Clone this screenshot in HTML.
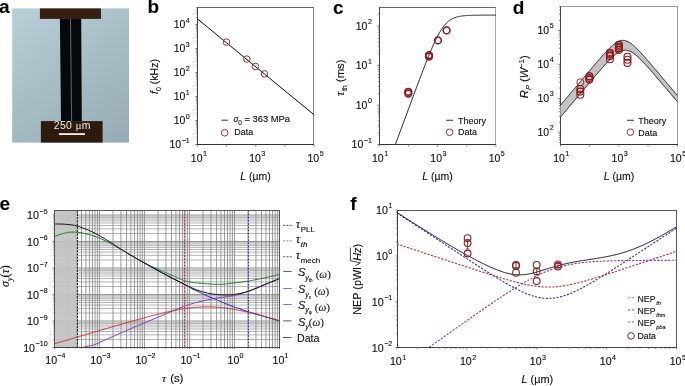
<!DOCTYPE html>
<html><head><meta charset="utf-8"><style>
html,body{margin:0;padding:0;background:#fff;}
svg{display:block;will-change:transform;}
text{stroke:#111;stroke-width:0.12px;}
</style></head><body>
<svg xmlns="http://www.w3.org/2000/svg" width="685" height="386" viewBox="0 0 685 386">
<rect width="685" height="386" fill="#fff"/>
<defs><linearGradient id="ga" x1="0" y1="0" x2="0" y2="1"><stop offset="0" stop-color="#b7cfd6"/><stop offset="1" stop-color="#a2b8c0"/></linearGradient><linearGradient id="gb" x1="0" y1="0" x2="1" y2="0"><stop offset="0" stop-color="#000" stop-opacity="0"/><stop offset="1" stop-color="#00081a" stop-opacity="0.07"/></linearGradient></defs>
<rect x="12.2" y="8.4" width="116.8" height="134.2" fill="url(#ga)"/>
<rect x="12.2" y="8.4" width="116.8" height="134.2" fill="url(#gb)"/>
<rect x="39.9" y="8.4" width="61.1" height="10.5" fill="#361f11"/>
<polygon points="59.9,18.8 81.2,18.8 81.8,121.2 61,121.2" fill="#06080c"/>
<line x1="70.5" y1="18.8" x2="71.6" y2="121.2" stroke="#4e6670" stroke-width="1.1"/>
<rect x="40.9" y="121.1" width="61.7" height="21.5" fill="#2e1b0e"/>
<text x="72.3" y="128.6" font-size="10.4" letter-spacing="0.33" text-anchor="middle" font-family='"Liberation Sans", sans-serif' fill="#ececec" style="stroke:none">250 <tspan font-family='"Liberation Serif", serif'>µ</tspan>m</text>
<rect x="59" y="133.2" width="26" height="1.8" fill="#f4f4f4"/>
<text x="-1" y="13" font-size="19" font-weight="bold" font-family='"Liberation Sans", sans-serif' fill="#000">a</text>
<text x="147.4" y="13.1" font-size="19" font-weight="bold" font-family='"Liberation Sans", sans-serif' fill="#000">b</text>
<text x="333" y="13.5" font-size="19" font-weight="bold" font-family='"Liberation Sans", sans-serif' fill="#000">c</text>
<text x="512.8" y="13.5" font-size="19" font-weight="bold" font-family='"Liberation Sans", sans-serif' fill="#000">d</text>
<text x="-0.4" y="209.7" font-size="19" font-weight="bold" font-family='"Liberation Sans", sans-serif' fill="#000">e</text>
<text x="350.2" y="209.5" font-size="19" font-weight="bold" font-family='"Liberation Sans", sans-serif' fill="#000">f</text>
<line x1="197" y1="7.5" x2="314" y2="7.5" stroke="#666" stroke-width="1" />
<line x1="313.5" y1="7.5" x2="313.5" y2="144.5" stroke="#888" stroke-width="1" />
<line x1="197.5" y1="7.5" x2="197.5" y2="145" stroke="#444" stroke-width="1" />
<line x1="197" y1="144.5" x2="314" y2="144.5" stroke="#333" stroke-width="1" />
<line x1="195.1" y1="144.6" x2="197.5" y2="144.6" stroke="#555" stroke-width="0.7" />
<line x1="195.9" y1="137.38" x2="197.5" y2="137.38" stroke="#555" stroke-width="0.7" />
<line x1="195.9" y1="133.15" x2="197.5" y2="133.15" stroke="#555" stroke-width="0.7" />
<line x1="195.9" y1="130.15" x2="197.5" y2="130.15" stroke="#555" stroke-width="0.7" />
<line x1="195.9" y1="127.82" x2="197.5" y2="127.82" stroke="#555" stroke-width="0.7" />
<line x1="195.9" y1="125.92" x2="197.5" y2="125.92" stroke="#555" stroke-width="0.7" />
<line x1="195.9" y1="124.32" x2="197.5" y2="124.32" stroke="#555" stroke-width="0.7" />
<line x1="195.9" y1="122.93" x2="197.5" y2="122.93" stroke="#555" stroke-width="0.7" />
<line x1="195.9" y1="121.7" x2="197.5" y2="121.7" stroke="#555" stroke-width="0.7" />
<line x1="195.1" y1="120.6" x2="197.5" y2="120.6" stroke="#555" stroke-width="0.7" />
<line x1="195.9" y1="113.38" x2="197.5" y2="113.38" stroke="#555" stroke-width="0.7" />
<line x1="195.9" y1="109.15" x2="197.5" y2="109.15" stroke="#555" stroke-width="0.7" />
<line x1="195.9" y1="106.15" x2="197.5" y2="106.15" stroke="#555" stroke-width="0.7" />
<line x1="195.9" y1="103.82" x2="197.5" y2="103.82" stroke="#555" stroke-width="0.7" />
<line x1="195.9" y1="101.92" x2="197.5" y2="101.92" stroke="#555" stroke-width="0.7" />
<line x1="195.9" y1="100.32" x2="197.5" y2="100.32" stroke="#555" stroke-width="0.7" />
<line x1="195.9" y1="98.93" x2="197.5" y2="98.93" stroke="#555" stroke-width="0.7" />
<line x1="195.9" y1="97.7" x2="197.5" y2="97.7" stroke="#555" stroke-width="0.7" />
<line x1="195.1" y1="96.6" x2="197.5" y2="96.6" stroke="#555" stroke-width="0.7" />
<line x1="195.9" y1="89.38" x2="197.5" y2="89.38" stroke="#555" stroke-width="0.7" />
<line x1="195.9" y1="85.15" x2="197.5" y2="85.15" stroke="#555" stroke-width="0.7" />
<line x1="195.9" y1="82.15" x2="197.5" y2="82.15" stroke="#555" stroke-width="0.7" />
<line x1="195.9" y1="79.82" x2="197.5" y2="79.82" stroke="#555" stroke-width="0.7" />
<line x1="195.9" y1="77.92" x2="197.5" y2="77.92" stroke="#555" stroke-width="0.7" />
<line x1="195.9" y1="76.32" x2="197.5" y2="76.32" stroke="#555" stroke-width="0.7" />
<line x1="195.9" y1="74.93" x2="197.5" y2="74.93" stroke="#555" stroke-width="0.7" />
<line x1="195.9" y1="73.7" x2="197.5" y2="73.7" stroke="#555" stroke-width="0.7" />
<line x1="195.1" y1="72.6" x2="197.5" y2="72.6" stroke="#555" stroke-width="0.7" />
<line x1="195.9" y1="65.38" x2="197.5" y2="65.38" stroke="#555" stroke-width="0.7" />
<line x1="195.9" y1="61.15" x2="197.5" y2="61.15" stroke="#555" stroke-width="0.7" />
<line x1="195.9" y1="58.15" x2="197.5" y2="58.15" stroke="#555" stroke-width="0.7" />
<line x1="195.9" y1="55.82" x2="197.5" y2="55.82" stroke="#555" stroke-width="0.7" />
<line x1="195.9" y1="53.92" x2="197.5" y2="53.92" stroke="#555" stroke-width="0.7" />
<line x1="195.9" y1="52.32" x2="197.5" y2="52.32" stroke="#555" stroke-width="0.7" />
<line x1="195.9" y1="50.93" x2="197.5" y2="50.93" stroke="#555" stroke-width="0.7" />
<line x1="195.9" y1="49.7" x2="197.5" y2="49.7" stroke="#555" stroke-width="0.7" />
<line x1="195.1" y1="48.6" x2="197.5" y2="48.6" stroke="#555" stroke-width="0.7" />
<line x1="195.9" y1="41.38" x2="197.5" y2="41.38" stroke="#555" stroke-width="0.7" />
<line x1="195.9" y1="37.15" x2="197.5" y2="37.15" stroke="#555" stroke-width="0.7" />
<line x1="195.9" y1="34.15" x2="197.5" y2="34.15" stroke="#555" stroke-width="0.7" />
<line x1="195.9" y1="31.82" x2="197.5" y2="31.82" stroke="#555" stroke-width="0.7" />
<line x1="195.9" y1="29.92" x2="197.5" y2="29.92" stroke="#555" stroke-width="0.7" />
<line x1="195.9" y1="28.32" x2="197.5" y2="28.32" stroke="#555" stroke-width="0.7" />
<line x1="195.9" y1="26.93" x2="197.5" y2="26.93" stroke="#555" stroke-width="0.7" />
<line x1="195.9" y1="25.7" x2="197.5" y2="25.7" stroke="#555" stroke-width="0.7" />
<line x1="195.1" y1="24.6" x2="197.5" y2="24.6" stroke="#555" stroke-width="0.7" />
<line x1="195.9" y1="17.38" x2="197.5" y2="17.38" stroke="#555" stroke-width="0.7" />
<line x1="195.9" y1="13.15" x2="197.5" y2="13.15" stroke="#555" stroke-width="0.7" />
<line x1="195.9" y1="10.15" x2="197.5" y2="10.15" stroke="#555" stroke-width="0.7" />
<line x1="195.9" y1="7.82" x2="197.5" y2="7.82" stroke="#555" stroke-width="0.7" />
<line x1="197.4" y1="144.5" x2="197.4" y2="146.5" stroke="#555" stroke-width="0.7" />
<line x1="226.58" y1="144.5" x2="226.58" y2="146.5" stroke="#555" stroke-width="0.7" />
<line x1="255.75" y1="144.5" x2="255.75" y2="146.5" stroke="#555" stroke-width="0.7" />
<line x1="284.93" y1="144.5" x2="284.93" y2="146.5" stroke="#555" stroke-width="0.7" />
<line x1="314.1" y1="144.5" x2="314.1" y2="146.5" stroke="#555" stroke-width="0.7" />
<text x="189.8" y="148.1" font-size="10.5" text-anchor="end" font-family='"Liberation Sans", sans-serif' fill="#111">10<tspan font-size="7.1" dx="0.5" dy="-5.6">−1</tspan></text>
<text x="189.8" y="124.1" font-size="10.5" text-anchor="end" font-family='"Liberation Sans", sans-serif' fill="#111">10<tspan font-size="7.1" dx="0.5" dy="-5.6">0</tspan></text>
<text x="189.8" y="100.1" font-size="10.5" text-anchor="end" font-family='"Liberation Sans", sans-serif' fill="#111">10<tspan font-size="7.1" dx="0.5" dy="-5.6">1</tspan></text>
<text x="189.8" y="76.1" font-size="10.5" text-anchor="end" font-family='"Liberation Sans", sans-serif' fill="#111">10<tspan font-size="7.1" dx="0.5" dy="-5.6">2</tspan></text>
<text x="189.8" y="52.1" font-size="10.5" text-anchor="end" font-family='"Liberation Sans", sans-serif' fill="#111">10<tspan font-size="7.1" dx="0.5" dy="-5.6">3</tspan></text>
<text x="189.8" y="28.1" font-size="10.5" text-anchor="end" font-family='"Liberation Sans", sans-serif' fill="#111">10<tspan font-size="7.1" dx="0.5" dy="-5.6">4</tspan></text>
<text x="198.9" y="161.7" font-size="10.5" text-anchor="middle" font-family='"Liberation Sans", sans-serif' fill="#111">10<tspan font-size="7.1" dx="0.5" dy="-5.6">1</tspan></text>
<text x="257.25" y="161.7" font-size="10.5" text-anchor="middle" font-family='"Liberation Sans", sans-serif' fill="#111">10<tspan font-size="7.1" dx="0.5" dy="-5.6">3</tspan></text>
<text x="315.6" y="161.7" font-size="10.5" text-anchor="middle" font-family='"Liberation Sans", sans-serif' fill="#111">10<tspan font-size="7.1" dx="0.5" dy="-5.6">5</tspan></text>
<polyline points="197.4,18.84 314.1,114.84" fill="none" stroke="#111" stroke-width="1" stroke-linejoin="round" />
<circle cx="226.4" cy="42.1" r="3.3" fill="none" stroke="#9a3535" stroke-width="1"/>
<circle cx="246.9" cy="59.1" r="3.3" fill="none" stroke="#9a3535" stroke-width="1"/>
<circle cx="255.4" cy="66.5" r="3.3" fill="none" stroke="#9a3535" stroke-width="1"/>
<circle cx="264.5" cy="73.9" r="3.3" fill="none" stroke="#9a3535" stroke-width="1"/>
<line x1="221.4" y1="120.2" x2="227.8" y2="120.2" stroke="#444" stroke-width="1.1" />
<text x="233.5" y="122.3" font-size="9.6" font-family='"Liberation Serif", serif' font-style="italic" fill="#111">σ<tspan font-size="6.4" dy="2.6" font-family='"Liberation Sans", sans-serif' font-style="normal">0</tspan><tspan dy="-2.6" font-family='"Liberation Sans", sans-serif' font-style="normal" font-size="9.4"> = 363 MPa</tspan></text>
<circle cx="224.7" cy="132.8" r="3.3" fill="none" stroke="#9a3535" stroke-width="1"/>
<text x="234.3" y="135" font-size="9" text-anchor="start" font-family='"Liberation Sans", sans-serif' fill="#111" >Data</text>
<text x="255.5" y="179.7" font-size="10.5" text-anchor="middle" font-family='"Liberation Sans", sans-serif' fill="#111"><tspan font-style="italic">L</tspan> (µm)</text>
<text transform="translate(158,76.5) rotate(-90)" font-size="10.5" text-anchor="middle" font-family='"Liberation Sans", sans-serif' fill="#111"><tspan font-style="italic">f</tspan><tspan font-size="7" dy="2.5">0</tspan><tspan dy="-2.5"> (kHz)</tspan></text>
<line x1="379" y1="7.5" x2="496" y2="7.5" stroke="#666" stroke-width="1" />
<line x1="495.5" y1="7.5" x2="495.5" y2="144.5" stroke="#aaa" stroke-width="1" />
<line x1="379.5" y1="7.5" x2="379.5" y2="145" stroke="#444" stroke-width="1" />
<line x1="379" y1="144.5" x2="496" y2="144.5" stroke="#333" stroke-width="1" />
<line x1="377.1" y1="144.7" x2="379.5" y2="144.7" stroke="#555" stroke-width="0.7" />
<line x1="377.9" y1="132.81" x2="379.5" y2="132.81" stroke="#555" stroke-width="0.7" />
<line x1="377.9" y1="125.85" x2="379.5" y2="125.85" stroke="#555" stroke-width="0.7" />
<line x1="377.9" y1="120.92" x2="379.5" y2="120.92" stroke="#555" stroke-width="0.7" />
<line x1="377.9" y1="117.09" x2="379.5" y2="117.09" stroke="#555" stroke-width="0.7" />
<line x1="377.9" y1="113.96" x2="379.5" y2="113.96" stroke="#555" stroke-width="0.7" />
<line x1="377.9" y1="111.32" x2="379.5" y2="111.32" stroke="#555" stroke-width="0.7" />
<line x1="377.9" y1="109.03" x2="379.5" y2="109.03" stroke="#555" stroke-width="0.7" />
<line x1="377.9" y1="107.01" x2="379.5" y2="107.01" stroke="#555" stroke-width="0.7" />
<line x1="377.1" y1="105.2" x2="379.5" y2="105.2" stroke="#555" stroke-width="0.7" />
<line x1="377.9" y1="93.31" x2="379.5" y2="93.31" stroke="#555" stroke-width="0.7" />
<line x1="377.9" y1="86.35" x2="379.5" y2="86.35" stroke="#555" stroke-width="0.7" />
<line x1="377.9" y1="81.42" x2="379.5" y2="81.42" stroke="#555" stroke-width="0.7" />
<line x1="377.9" y1="77.59" x2="379.5" y2="77.59" stroke="#555" stroke-width="0.7" />
<line x1="377.9" y1="74.46" x2="379.5" y2="74.46" stroke="#555" stroke-width="0.7" />
<line x1="377.9" y1="71.82" x2="379.5" y2="71.82" stroke="#555" stroke-width="0.7" />
<line x1="377.9" y1="69.53" x2="379.5" y2="69.53" stroke="#555" stroke-width="0.7" />
<line x1="377.9" y1="67.51" x2="379.5" y2="67.51" stroke="#555" stroke-width="0.7" />
<line x1="377.1" y1="65.7" x2="379.5" y2="65.7" stroke="#555" stroke-width="0.7" />
<line x1="377.9" y1="53.81" x2="379.5" y2="53.81" stroke="#555" stroke-width="0.7" />
<line x1="377.9" y1="46.85" x2="379.5" y2="46.85" stroke="#555" stroke-width="0.7" />
<line x1="377.9" y1="41.92" x2="379.5" y2="41.92" stroke="#555" stroke-width="0.7" />
<line x1="377.9" y1="38.09" x2="379.5" y2="38.09" stroke="#555" stroke-width="0.7" />
<line x1="377.9" y1="34.96" x2="379.5" y2="34.96" stroke="#555" stroke-width="0.7" />
<line x1="377.9" y1="32.32" x2="379.5" y2="32.32" stroke="#555" stroke-width="0.7" />
<line x1="377.9" y1="30.03" x2="379.5" y2="30.03" stroke="#555" stroke-width="0.7" />
<line x1="377.9" y1="28.01" x2="379.5" y2="28.01" stroke="#555" stroke-width="0.7" />
<line x1="377.1" y1="26.2" x2="379.5" y2="26.2" stroke="#555" stroke-width="0.7" />
<line x1="377.9" y1="14.31" x2="379.5" y2="14.31" stroke="#555" stroke-width="0.7" />
<line x1="379.3" y1="144.5" x2="379.3" y2="146.5" stroke="#555" stroke-width="0.7" />
<line x1="408.45" y1="144.5" x2="408.45" y2="146.5" stroke="#555" stroke-width="0.7" />
<line x1="437.6" y1="144.5" x2="437.6" y2="146.5" stroke="#555" stroke-width="0.7" />
<line x1="466.75" y1="144.5" x2="466.75" y2="146.5" stroke="#555" stroke-width="0.7" />
<line x1="495.9" y1="144.5" x2="495.9" y2="146.5" stroke="#555" stroke-width="0.7" />
<text x="371.9" y="148.2" font-size="10.5" text-anchor="end" font-family='"Liberation Sans", sans-serif' fill="#111">10<tspan font-size="7.1" dx="0.5" dy="-5.6">−1</tspan></text>
<text x="371.9" y="108.7" font-size="10.5" text-anchor="end" font-family='"Liberation Sans", sans-serif' fill="#111">10<tspan font-size="7.1" dx="0.5" dy="-5.6">0</tspan></text>
<text x="371.9" y="69.2" font-size="10.5" text-anchor="end" font-family='"Liberation Sans", sans-serif' fill="#111">10<tspan font-size="7.1" dx="0.5" dy="-5.6">1</tspan></text>
<text x="371.9" y="29.7" font-size="10.5" text-anchor="end" font-family='"Liberation Sans", sans-serif' fill="#111">10<tspan font-size="7.1" dx="0.5" dy="-5.6">2</tspan></text>
<text x="380.1" y="161.7" font-size="10.5" text-anchor="middle" font-family='"Liberation Sans", sans-serif' fill="#111">10<tspan font-size="7.1" dx="0.5" dy="-5.6">1</tspan></text>
<text x="438.4" y="161.7" font-size="10.5" text-anchor="middle" font-family='"Liberation Sans", sans-serif' fill="#111">10<tspan font-size="7.1" dx="0.5" dy="-5.6">3</tspan></text>
<text x="496.7" y="161.7" font-size="10.5" text-anchor="middle" font-family='"Liberation Sans", sans-serif' fill="#111">10<tspan font-size="7.1" dx="0.5" dy="-5.6">5</tspan></text>
<polyline points="395.33,144.63 395.62,143.84 395.92,143.05 396.21,142.26 396.5,141.47 396.79,140.68 397.08,139.89 397.37,139.1 397.66,138.31 397.96,137.52 398.25,136.74 398.54,135.95 398.83,135.16 399.12,134.37 399.41,133.58 399.7,132.79 400,132 400.29,131.21 400.58,130.42 400.87,129.63 401.16,128.84 401.45,128.05 401.75,127.27 402.04,126.48 402.33,125.69 402.62,124.9 402.91,124.11 403.2,123.32 403.49,122.53 403.79,121.75 404.08,120.96 404.37,120.17 404.66,119.38 404.95,118.59 405.24,117.8 405.54,117.02 405.83,116.23 406.12,115.44 406.41,114.65 406.7,113.87 406.99,113.08 407.28,112.29 407.58,111.5 407.87,110.72 408.16,109.93 408.45,109.14 408.74,108.36 409.03,107.57 409.32,106.78 409.62,106 409.91,105.21 410.2,104.43 410.49,103.64 410.78,102.85 411.07,102.07 411.37,101.28 411.66,100.5 411.95,99.72 412.24,98.93 412.53,98.15 412.82,97.36 413.11,96.58 413.41,95.8 413.7,95.01 413.99,94.23 414.28,93.45 414.57,92.67 414.86,91.89 415.15,91.11 415.45,90.33 415.74,89.55 416.03,88.77 416.32,87.99 416.61,87.21 416.9,86.43 417.19,85.65 417.49,84.88 417.78,84.1 418.07,83.33 418.36,82.55 418.65,81.78 418.94,81 419.24,80.23 419.53,79.46 419.82,78.69 420.11,77.92 420.4,77.15 420.69,76.38 420.98,75.61 421.28,74.85 421.57,74.08 421.86,73.32 422.15,72.56 422.44,71.79 422.73,71.03 423.02,70.27 423.32,69.52 423.61,68.76 423.9,68.01 424.19,67.25 424.48,66.5 424.77,65.75 425.07,65.01 425.36,64.26 425.65,63.52 425.94,62.77 426.23,62.03 426.52,61.3 426.81,60.56 427.11,59.83 427.4,59.1 427.69,58.37 427.98,57.64 428.27,56.92 428.56,56.2 428.86,55.49 429.15,54.77 429.44,54.06 429.73,53.36 430.02,52.65 430.31,51.95 430.6,51.26 430.9,50.57 431.19,49.88 431.48,49.2 431.77,48.52 432.06,47.84 432.35,47.17 432.64,46.51 432.94,45.85 433.23,45.19 433.52,44.54 433.81,43.89 434.1,43.25 434.39,42.62 434.69,41.99 434.98,41.37 435.27,40.76 435.56,40.15 435.85,39.54 436.14,38.95 436.43,38.36 436.73,37.78 437.02,37.2 437.31,36.63 437.6,36.07 437.89,35.52 438.18,34.97 438.47,34.44 438.77,33.91 439.06,33.39 439.35,32.87 439.64,32.37 439.93,31.87 440.22,31.38 440.51,30.9 440.81,30.43 441.1,29.97 441.39,29.52 441.68,29.08 441.97,28.64 442.26,28.21 442.56,27.8 442.85,27.39 443.14,26.99 443.43,26.6 443.72,26.22 444.01,25.85 444.3,25.49 444.6,25.13 444.89,24.79 445.18,24.45 445.47,24.13 445.76,23.81 446.05,23.5 446.34,23.2 446.64,22.91 446.93,22.63 447.22,22.35 447.51,22.08 447.8,21.82 448.09,21.57 448.39,21.33 448.68,21.09 448.97,20.87 449.26,20.65 449.55,20.43 449.84,20.23 450.13,20.03 450.43,19.83 450.72,19.65 451.01,19.47 451.3,19.3 451.59,19.13 451.88,18.97 452.17,18.81 452.47,18.66 452.76,18.52 453.05,18.38 453.34,18.25 453.63,18.12 453.92,18 454.22,17.88 454.51,17.76 454.8,17.65 455.09,17.55 455.38,17.45 455.67,17.35 455.96,17.26 456.26,17.17 456.55,17.08 456.84,17 457.13,16.92 457.42,16.84 457.71,16.77 458,16.7 458.3,16.63 458.59,16.57 458.88,16.5 459.17,16.45 459.46,16.39 459.75,16.33 460.05,16.28 460.34,16.23 460.63,16.18 460.92,16.14 461.21,16.1 461.5,16.05 461.79,16.01 462.09,15.98 462.38,15.94 462.67,15.9 462.96,15.87 463.25,15.84 463.54,15.81 463.83,15.78 464.13,15.75 464.42,15.72 464.71,15.7 465,15.67 465.29,15.65 465.58,15.63 465.88,15.6 466.17,15.58 466.46,15.56 466.75,15.54 467.04,15.53 467.33,15.51 467.62,15.49 467.92,15.48 468.21,15.46 468.5,15.45 468.79,15.43 469.08,15.42 469.37,15.41 469.66,15.4 469.96,15.39 470.25,15.37 470.54,15.36 470.83,15.35 471.12,15.34 471.41,15.33 471.71,15.33 472,15.32 472.29,15.31 472.58,15.3 472.87,15.3 473.16,15.29 473.45,15.28 473.75,15.28 474.04,15.27 474.33,15.26 474.62,15.26 474.91,15.25 475.2,15.25 475.5,15.24 475.79,15.24 476.08,15.23 476.37,15.23 476.66,15.23 476.95,15.22 477.24,15.22 477.54,15.21 477.83,15.21 478.12,15.21 478.41,15.2 478.7,15.2 478.99,15.2 479.28,15.2 479.58,15.19 479.87,15.19 480.16,15.19 480.45,15.19 480.74,15.18 481.03,15.18 481.32,15.18 481.62,15.18 481.91,15.18 482.2,15.18 482.49,15.17 482.78,15.17 483.07,15.17 483.37,15.17 483.66,15.17 483.95,15.17 484.24,15.17 484.53,15.16 484.82,15.16 485.11,15.16 485.41,15.16 485.7,15.16 485.99,15.16 486.28,15.16 486.57,15.16 486.86,15.16 487.15,15.16 487.45,15.16 487.74,15.15 488.03,15.15 488.32,15.15 488.61,15.15 488.9,15.15 489.2,15.15 489.49,15.15 489.78,15.15 490.07,15.15 490.36,15.15 490.65,15.15 490.94,15.15 491.24,15.15 491.53,15.15 491.82,15.15 492.11,15.15 492.4,15.15 492.69,15.15 492.99,15.15 493.28,15.15 493.57,15.15 493.86,15.15 494.15,15.15 494.44,15.15 494.73,15.14 495.03,15.14 495.32,15.14 495.61,15.14 495.9,15.14" fill="none" stroke="#111" stroke-width="1" stroke-linejoin="round" />
<circle cx="408.3" cy="91.8" r="3.4" fill="none" stroke="#8a1616" stroke-width="1.55"/>
<circle cx="408.3" cy="93.6" r="3.4" fill="none" stroke="#8a1616" stroke-width="1.55"/>
<circle cx="429" cy="55.1" r="3.4" fill="none" stroke="#8a1616" stroke-width="1.55"/>
<circle cx="429" cy="56.6" r="3.4" fill="none" stroke="#8a1616" stroke-width="1.55"/>
<circle cx="437.9" cy="40.4" r="3.4" fill="none" stroke="#8a1616" stroke-width="1.55"/>
<circle cx="446.6" cy="30.4" r="3.4" fill="none" stroke="#8a1616" stroke-width="1.55"/>
<line x1="446.1" y1="120.3" x2="453.1" y2="120.3" stroke="#555" stroke-width="1.2" />
<text x="458" y="123.9" font-size="9" text-anchor="start" font-family='"Liberation Sans", sans-serif' fill="#111" >Theory</text>
<circle cx="449.6" cy="132.3" r="3.3" fill="none" stroke="#9a3535" stroke-width="1"/>
<text x="458" y="135.3" font-size="9" text-anchor="start" font-family='"Liberation Sans", sans-serif' fill="#111" >Data</text>
<text x="437.5" y="179.7" font-size="10.5" text-anchor="middle" font-family='"Liberation Sans", sans-serif' fill="#111"><tspan font-style="italic">L</tspan> (µm)</text>
<text transform="translate(344.3,96) rotate(-90)" font-size="10.7" fill="#111"><tspan font-family='"Liberation Serif", serif' font-style="italic" font-size="12">τ</tspan><tspan font-size="7" dx="0.6" dy="2.6" font-family='"Liberation Sans", sans-serif'>th</tspan><tspan dy="-2.6" font-family='"Liberation Sans", sans-serif' font-size="11.3"> (ms)</tspan></text>
<line x1="560" y1="6.5" x2="678" y2="6.5" stroke="#9a9a9a" stroke-width="1" />
<line x1="677.5" y1="6.5" x2="677.5" y2="144.5" stroke="#999" stroke-width="1" />
<line x1="560.5" y1="6.5" x2="560.5" y2="145" stroke="#444" stroke-width="1" />
<line x1="560" y1="144.5" x2="678" y2="144.5" stroke="#333" stroke-width="1" />
<line x1="558.9" y1="142.35" x2="560.5" y2="142.35" stroke="#555" stroke-width="0.7" />
<line x1="558.9" y1="139.67" x2="560.5" y2="139.67" stroke="#555" stroke-width="0.7" />
<line x1="558.9" y1="137.4" x2="560.5" y2="137.4" stroke="#555" stroke-width="0.7" />
<line x1="558.9" y1="135.44" x2="560.5" y2="135.44" stroke="#555" stroke-width="0.7" />
<line x1="558.9" y1="133.7" x2="560.5" y2="133.7" stroke="#555" stroke-width="0.7" />
<line x1="558.1" y1="132.15" x2="560.5" y2="132.15" stroke="#555" stroke-width="0.7" />
<line x1="558.9" y1="121.95" x2="560.5" y2="121.95" stroke="#555" stroke-width="0.7" />
<line x1="558.9" y1="115.98" x2="560.5" y2="115.98" stroke="#555" stroke-width="0.7" />
<line x1="558.9" y1="111.74" x2="560.5" y2="111.74" stroke="#555" stroke-width="0.7" />
<line x1="558.9" y1="108.45" x2="560.5" y2="108.45" stroke="#555" stroke-width="0.7" />
<line x1="558.9" y1="105.77" x2="560.5" y2="105.77" stroke="#555" stroke-width="0.7" />
<line x1="558.9" y1="103.5" x2="560.5" y2="103.5" stroke="#555" stroke-width="0.7" />
<line x1="558.9" y1="101.54" x2="560.5" y2="101.54" stroke="#555" stroke-width="0.7" />
<line x1="558.9" y1="99.8" x2="560.5" y2="99.8" stroke="#555" stroke-width="0.7" />
<line x1="558.1" y1="98.25" x2="560.5" y2="98.25" stroke="#555" stroke-width="0.7" />
<line x1="558.9" y1="88.05" x2="560.5" y2="88.05" stroke="#555" stroke-width="0.7" />
<line x1="558.9" y1="82.08" x2="560.5" y2="82.08" stroke="#555" stroke-width="0.7" />
<line x1="558.9" y1="77.84" x2="560.5" y2="77.84" stroke="#555" stroke-width="0.7" />
<line x1="558.9" y1="74.55" x2="560.5" y2="74.55" stroke="#555" stroke-width="0.7" />
<line x1="558.9" y1="71.87" x2="560.5" y2="71.87" stroke="#555" stroke-width="0.7" />
<line x1="558.9" y1="69.6" x2="560.5" y2="69.6" stroke="#555" stroke-width="0.7" />
<line x1="558.9" y1="67.64" x2="560.5" y2="67.64" stroke="#555" stroke-width="0.7" />
<line x1="558.9" y1="65.9" x2="560.5" y2="65.9" stroke="#555" stroke-width="0.7" />
<line x1="558.1" y1="64.35" x2="560.5" y2="64.35" stroke="#555" stroke-width="0.7" />
<line x1="558.9" y1="54.15" x2="560.5" y2="54.15" stroke="#555" stroke-width="0.7" />
<line x1="558.9" y1="48.18" x2="560.5" y2="48.18" stroke="#555" stroke-width="0.7" />
<line x1="558.9" y1="43.94" x2="560.5" y2="43.94" stroke="#555" stroke-width="0.7" />
<line x1="558.9" y1="40.65" x2="560.5" y2="40.65" stroke="#555" stroke-width="0.7" />
<line x1="558.9" y1="37.97" x2="560.5" y2="37.97" stroke="#555" stroke-width="0.7" />
<line x1="558.9" y1="35.7" x2="560.5" y2="35.7" stroke="#555" stroke-width="0.7" />
<line x1="558.9" y1="33.74" x2="560.5" y2="33.74" stroke="#555" stroke-width="0.7" />
<line x1="558.9" y1="32" x2="560.5" y2="32" stroke="#555" stroke-width="0.7" />
<line x1="558.1" y1="30.45" x2="560.5" y2="30.45" stroke="#555" stroke-width="0.7" />
<line x1="558.9" y1="20.25" x2="560.5" y2="20.25" stroke="#555" stroke-width="0.7" />
<line x1="558.9" y1="14.28" x2="560.5" y2="14.28" stroke="#555" stroke-width="0.7" />
<line x1="558.9" y1="10.04" x2="560.5" y2="10.04" stroke="#555" stroke-width="0.7" />
<line x1="558.9" y1="6.75" x2="560.5" y2="6.75" stroke="#555" stroke-width="0.7" />
<line x1="560.4" y1="144.5" x2="560.4" y2="146.5" stroke="#555" stroke-width="0.7" />
<line x1="589.62" y1="144.5" x2="589.62" y2="146.5" stroke="#555" stroke-width="0.7" />
<line x1="618.85" y1="144.5" x2="618.85" y2="146.5" stroke="#555" stroke-width="0.7" />
<line x1="648.07" y1="144.5" x2="648.07" y2="146.5" stroke="#555" stroke-width="0.7" />
<line x1="677.3" y1="144.5" x2="677.3" y2="146.5" stroke="#555" stroke-width="0.7" />
<text x="553.6" y="135.65" font-size="10.5" text-anchor="end" font-family='"Liberation Sans", sans-serif' fill="#111">10<tspan font-size="7.1" dx="0.5" dy="-5.6">2</tspan></text>
<text x="553.6" y="101.75" font-size="10.5" text-anchor="end" font-family='"Liberation Sans", sans-serif' fill="#111">10<tspan font-size="7.1" dx="0.5" dy="-5.6">3</tspan></text>
<text x="553.6" y="67.85" font-size="10.5" text-anchor="end" font-family='"Liberation Sans", sans-serif' fill="#111">10<tspan font-size="7.1" dx="0.5" dy="-5.6">4</tspan></text>
<text x="553.6" y="33.95" font-size="10.5" text-anchor="end" font-family='"Liberation Sans", sans-serif' fill="#111">10<tspan font-size="7.1" dx="0.5" dy="-5.6">5</tspan></text>
<text x="561.2" y="161.7" font-size="10.5" text-anchor="middle" font-family='"Liberation Sans", sans-serif' fill="#111">10<tspan font-size="7.1" dx="0.5" dy="-5.6">1</tspan></text>
<text x="619.65" y="161.7" font-size="10.5" text-anchor="middle" font-family='"Liberation Sans", sans-serif' fill="#111">10<tspan font-size="7.1" dx="0.5" dy="-5.6">3</tspan></text>
<text x="678.1" y="161.7" font-size="10.5" text-anchor="middle" font-family='"Liberation Sans", sans-serif' fill="#111">10<tspan font-size="7.1" dx="0.5" dy="-5.6">5</tspan></text>
<polygon points="560.4,105.4 560.69,105.06 560.98,104.71 561.28,104.36 561.57,104.01 561.86,103.67 562.15,103.32 562.45,102.97 562.74,102.62 563.03,102.28 563.32,101.93 563.61,101.58 563.91,101.23 564.2,100.89 564.49,100.54 564.78,100.19 565.08,99.84 565.37,99.5 565.66,99.15 565.95,98.8 566.25,98.45 566.54,98.11 566.83,97.76 567.12,97.41 567.41,97.06 567.71,96.72 568,96.37 568.29,96.02 568.58,95.67 568.88,95.33 569.17,94.98 569.46,94.63 569.75,94.28 570.04,93.94 570.34,93.59 570.63,93.24 570.92,92.9 571.21,92.55 571.51,92.2 571.8,91.85 572.09,91.51 572.38,91.16 572.67,90.81 572.97,90.46 573.26,90.12 573.55,89.77 573.84,89.42 574.14,89.07 574.43,88.73 574.72,88.38 575.01,88.03 575.3,87.68 575.6,87.34 575.89,86.99 576.18,86.64 576.47,86.3 576.77,85.95 577.06,85.6 577.35,85.25 577.64,84.91 577.93,84.56 578.23,84.21 578.52,83.86 578.81,83.52 579.1,83.17 579.4,82.82 579.69,82.48 579.98,82.13 580.27,81.78 580.57,81.43 580.86,81.09 581.15,80.74 581.44,80.39 581.73,80.05 582.03,79.7 582.32,79.35 582.61,79.01 582.9,78.66 583.2,78.31 583.49,77.96 583.78,77.62 584.07,77.27 584.36,76.92 584.66,76.58 584.95,76.23 585.24,75.88 585.53,75.54 585.83,75.19 586.12,74.84 586.41,74.5 586.7,74.15 586.99,73.81 587.29,73.46 587.58,73.11 587.87,72.77 588.16,72.42 588.46,72.08 588.75,71.73 589.04,71.38 589.33,71.04 589.62,70.69 589.92,70.35 590.21,70 590.5,69.66 590.79,69.31 591.09,68.97 591.38,68.62 591.67,68.28 591.96,67.93 592.26,67.59 592.55,67.24 592.84,66.9 593.13,66.55 593.42,66.21 593.72,65.87 594.01,65.52 594.3,65.18 594.59,64.84 594.89,64.49 595.18,64.15 595.47,63.81 595.76,63.47 596.05,63.12 596.35,62.78 596.64,62.44 596.93,62.1 597.22,61.76 597.52,61.42 597.81,61.08 598.1,60.74 598.39,60.4 598.68,60.06 598.98,59.73 599.27,59.39 599.56,59.05 599.85,58.72 600.15,58.38 600.44,58.05 600.73,57.71 601.02,57.38 601.31,57.04 601.61,56.71 601.9,56.38 602.19,56.05 602.48,55.72 602.78,55.39 603.07,55.06 603.36,54.74 603.65,54.41 603.95,54.08 604.24,53.76 604.53,53.44 604.82,53.12 605.11,52.8 605.41,52.48 605.7,52.16 605.99,51.85 606.28,51.53 606.58,51.22 606.87,50.91 607.16,50.6 607.45,50.3 607.74,49.99 608.04,49.69 608.33,49.39 608.62,49.09 608.91,48.8 609.21,48.5 609.5,48.21 609.79,47.93 610.08,47.64 610.37,47.36 610.67,47.08 610.96,46.81 611.25,46.53 611.54,46.27 611.84,46 612.13,45.74 612.42,45.49 612.71,45.23 613,44.99 613.3,44.74 613.59,44.5 613.88,44.27 614.17,44.04 614.47,43.82 614.76,43.6 615.05,43.39 615.34,43.18 615.64,42.98 615.93,42.78 616.22,42.6 616.51,42.41 616.8,42.24 617.1,42.07 617.39,41.91 617.68,41.75 617.97,41.61 618.27,41.47 618.56,41.33 618.85,41.21 619.14,41.09 619.43,40.98 619.73,40.88 620.02,40.79 620.31,40.71 620.6,40.63 620.9,40.56 621.19,40.51 621.48,40.46 621.77,40.42 622.06,40.38 622.36,40.36 622.65,40.35 622.94,40.34 623.23,40.35 623.53,40.36 623.82,40.38 624.11,40.41 624.4,40.45 624.69,40.5 624.99,40.56 625.28,40.63 625.57,40.7 625.86,40.78 626.16,40.88 626.45,40.98 626.74,41.08 627.03,41.2 627.33,41.32 627.62,41.46 627.91,41.59 628.2,41.74 628.49,41.9 628.79,42.06 629.08,42.22 629.37,42.4 629.66,42.58 629.96,42.77 630.25,42.96 630.54,43.16 630.83,43.37 631.12,43.58 631.42,43.8 631.71,44.02 632,44.25 632.29,44.48 632.59,44.72 632.88,44.96 633.17,45.21 633.46,45.46 633.75,45.71 634.05,45.97 634.34,46.23 634.63,46.5 634.92,46.77 635.22,47.05 635.51,47.32 635.8,47.6 636.09,47.89 636.38,48.17 636.68,48.46 636.97,48.75 637.26,49.05 637.55,49.34 637.85,49.64 638.14,49.94 638.43,50.24 638.72,50.55 639.02,50.86 639.31,51.17 639.6,51.48 639.89,51.79 640.18,52.1 640.48,52.42 640.77,52.73 641.06,53.05 641.35,53.37 641.65,53.69 641.94,54.02 642.23,54.34 642.52,54.66 642.81,54.99 643.11,55.32 643.4,55.64 643.69,55.97 643.98,56.3 644.28,56.63 644.57,56.96 644.86,57.29 645.15,57.62 645.44,57.96 645.74,58.29 646.03,58.62 646.32,58.96 646.61,59.29 646.91,59.63 647.2,59.97 647.49,60.3 647.78,60.64 648.07,60.98 648.37,61.32 648.66,61.66 648.95,61.99 649.24,62.33 649.54,62.67 649.83,63.01 650.12,63.35 650.41,63.69 650.71,64.03 651,64.37 651.29,64.72 651.58,65.06 651.87,65.4 652.17,65.74 652.46,66.08 652.75,66.42 653.04,66.77 653.34,67.11 653.63,67.45 653.92,67.79 654.21,68.14 654.5,68.48 654.8,68.82 655.09,69.17 655.38,69.51 655.67,69.85 655.97,70.2 656.26,70.54 656.55,70.89 656.84,71.23 657.13,71.57 657.43,71.92 657.72,72.26 658.01,72.61 658.3,72.95 658.6,73.3 658.89,73.64 659.18,73.99 659.47,74.33 659.76,74.68 660.06,75.02 660.35,75.36 660.64,75.71 660.93,76.05 661.23,76.4 661.52,76.74 661.81,77.09 662.1,77.43 662.4,77.78 662.69,78.13 662.98,78.47 663.27,78.82 663.56,79.16 663.86,79.51 664.15,79.85 664.44,80.2 664.73,80.54 665.03,80.89 665.32,81.23 665.61,81.58 665.9,81.92 666.19,82.27 666.49,82.61 666.78,82.96 667.07,83.31 667.36,83.65 667.66,84 667.95,84.34 668.24,84.69 668.53,85.03 668.82,85.38 669.12,85.72 669.41,86.07 669.7,86.42 669.99,86.76 670.29,87.11 670.58,87.45 670.87,87.8 671.16,88.14 671.45,88.49 671.75,88.83 672.04,89.18 672.33,89.53 672.62,89.87 672.92,90.22 673.21,90.56 673.5,90.91 673.79,91.25 674.09,91.6 674.38,91.95 674.67,92.29 674.96,92.64 675.25,92.98 675.55,93.33 675.84,93.67 676.13,94.02 676.42,94.37 676.72,94.71 677.01,95.06 677.3,95.4 677.3,101.61 677.01,101.26 676.72,100.92 676.42,100.57 676.13,100.23 675.84,99.88 675.55,99.54 675.25,99.19 674.96,98.84 674.67,98.5 674.38,98.15 674.09,97.81 673.79,97.46 673.5,97.12 673.21,96.77 672.92,96.43 672.62,96.08 672.33,95.74 672.04,95.39 671.75,95.04 671.45,94.7 671.16,94.35 670.87,94.01 670.58,93.66 670.29,93.32 669.99,92.97 669.7,92.63 669.41,92.28 669.12,91.94 668.82,91.59 668.53,91.25 668.24,90.9 667.95,90.56 667.66,90.21 667.36,89.87 667.07,89.52 666.78,89.18 666.49,88.83 666.19,88.49 665.9,88.14 665.61,87.8 665.32,87.45 665.03,87.11 664.73,86.76 664.44,86.42 664.15,86.07 663.86,85.73 663.56,85.39 663.27,85.04 662.98,84.7 662.69,84.35 662.4,84.01 662.1,83.66 661.81,83.32 661.52,82.98 661.23,82.63 660.93,82.29 660.64,81.95 660.35,81.6 660.06,81.26 659.76,80.92 659.47,80.57 659.18,80.23 658.89,79.89 658.6,79.54 658.3,79.2 658.01,78.86 657.72,78.52 657.43,78.18 657.13,77.83 656.84,77.49 656.55,77.15 656.26,76.81 655.97,76.47 655.67,76.13 655.38,75.79 655.09,75.45 654.8,75.11 654.5,74.77 654.21,74.43 653.92,74.09 653.63,73.75 653.34,73.41 653.04,73.07 652.75,72.74 652.46,72.4 652.17,72.06 651.87,71.72 651.58,71.39 651.29,71.05 651,70.72 650.71,70.38 650.41,70.05 650.12,69.72 649.83,69.38 649.54,69.05 649.24,68.72 648.95,68.39 648.66,68.06 648.37,67.73 648.07,67.4 647.78,67.07 647.49,66.74 647.2,66.42 646.91,66.09 646.61,65.77 646.32,65.44 646.03,65.12 645.74,64.8 645.44,64.48 645.15,64.16 644.86,63.84 644.57,63.52 644.28,63.21 643.98,62.89 643.69,62.58 643.4,62.27 643.11,61.96 642.81,61.65 642.52,61.35 642.23,61.04 641.94,60.74 641.65,60.44 641.35,60.14 641.06,59.84 640.77,59.55 640.48,59.26 640.18,58.97 639.89,58.68 639.6,58.4 639.31,58.12 639.02,57.84 638.72,57.56 638.43,57.29 638.14,57.02 637.85,56.75 637.55,56.49 637.26,56.23 636.97,55.97 636.68,55.72 636.38,55.47 636.09,55.23 635.8,54.99 635.51,54.75 635.22,54.52 634.92,54.29 634.63,54.07 634.34,53.85 634.05,53.64 633.75,53.43 633.46,53.23 633.17,53.03 632.88,52.84 632.59,52.66 632.29,52.48 632,52.3 631.71,52.14 631.42,51.98 631.12,51.82 630.83,51.67 630.54,51.53 630.25,51.4 629.96,51.27 629.66,51.15 629.37,51.04 629.08,50.93 628.79,50.83 628.49,50.74 628.2,50.66 627.91,50.58 627.62,50.52 627.33,50.46 627.03,50.4 626.74,50.36 626.45,50.33 626.16,50.3 625.86,50.28 625.57,50.27 625.28,50.26 624.99,50.27 624.69,50.28 624.4,50.3 624.11,50.33 623.82,50.37 623.53,50.42 623.23,50.47 622.94,50.53 622.65,50.6 622.36,50.68 622.06,50.76 621.77,50.85 621.48,50.95 621.19,51.06 620.9,51.18 620.6,51.3 620.31,51.43 620.02,51.56 619.73,51.71 619.43,51.86 619.14,52.01 618.85,52.18 618.56,52.34 618.27,52.52 617.97,52.7 617.68,52.89 617.39,53.08 617.1,53.28 616.8,53.48 616.51,53.69 616.22,53.91 615.93,54.13 615.64,54.35 615.34,54.58 615.05,54.81 614.76,55.05 614.47,55.29 614.17,55.54 613.88,55.79 613.59,56.04 613.3,56.3 613,56.56 612.71,56.83 612.42,57.1 612.13,57.37 611.84,57.64 611.54,57.92 611.25,58.2 610.96,58.48 610.67,58.77 610.37,59.06 610.08,59.35 609.79,59.64 609.5,59.94 609.21,60.24 608.91,60.54 608.62,60.84 608.33,61.14 608.04,61.45 607.74,61.76 607.45,62.07 607.16,62.38 606.87,62.69 606.58,63 606.28,63.32 605.99,63.64 605.7,63.96 605.41,64.28 605.11,64.6 604.82,64.92 604.53,65.24 604.24,65.57 603.95,65.89 603.65,66.22 603.36,66.55 603.07,66.87 602.78,67.2 602.48,67.53 602.19,67.86 601.9,68.2 601.61,68.53 601.31,68.86 601.02,69.19 600.73,69.53 600.44,69.86 600.15,70.2 599.85,70.53 599.56,70.87 599.27,71.21 598.98,71.54 598.68,71.88 598.39,72.22 598.1,72.56 597.81,72.9 597.52,73.24 597.22,73.58 596.93,73.92 596.64,74.26 596.35,74.6 596.05,74.94 595.76,75.28 595.47,75.62 595.18,75.97 594.89,76.31 594.59,76.65 594.3,76.99 594.01,77.34 593.72,77.68 593.42,78.02 593.13,78.37 592.84,78.71 592.55,79.05 592.26,79.4 591.96,79.74 591.67,80.09 591.38,80.43 591.09,80.77 590.79,81.12 590.5,81.46 590.21,81.81 589.92,82.15 589.62,82.5 589.33,82.84 589.04,83.19 588.75,83.54 588.46,83.88 588.16,84.23 587.87,84.57 587.58,84.92 587.29,85.26 586.99,85.61 586.7,85.96 586.41,86.3 586.12,86.65 585.83,87 585.53,87.34 585.24,87.69 584.95,88.03 584.66,88.38 584.36,88.73 584.07,89.07 583.78,89.42 583.49,89.77 583.2,90.11 582.9,90.46 582.61,90.81 582.32,91.15 582.03,91.5 581.73,91.85 581.44,92.19 581.15,92.54 580.86,92.89 580.57,93.24 580.27,93.58 579.98,93.93 579.69,94.28 579.4,94.62 579.1,94.97 578.81,95.32 578.52,95.66 578.23,96.01 577.93,96.36 577.64,96.71 577.35,97.05 577.06,97.4 576.77,97.75 576.47,98.09 576.18,98.44 575.89,98.79 575.6,99.14 575.3,99.48 575.01,99.83 574.72,100.18 574.43,100.53 574.14,100.87 573.84,101.22 573.55,101.57 573.26,101.91 572.97,102.26 572.67,102.61 572.38,102.96 572.09,103.3 571.8,103.65 571.51,104 571.21,104.35 570.92,104.69 570.63,105.04 570.34,105.39 570.04,105.74 569.75,106.08 569.46,106.43 569.17,106.78 568.88,107.12 568.58,107.47 568.29,107.82 568,108.17 567.71,108.51 567.41,108.86 567.12,109.21 566.83,109.56 566.54,109.9 566.25,110.25 565.95,110.6 565.66,110.95 565.37,111.29 565.08,111.64 564.78,111.99 564.49,112.34 564.2,112.68 563.91,113.03 563.61,113.38 563.32,113.73 563.03,114.07 562.74,114.42 562.45,114.77 562.15,115.12 561.86,115.46 561.57,115.81 561.28,116.16 560.98,116.51 560.69,116.85 560.4,117.2" fill="#c3c3c3" stroke="none"/>
<polyline points="560.4,105.4 560.69,105.06 560.98,104.71 561.28,104.36 561.57,104.01 561.86,103.67 562.15,103.32 562.45,102.97 562.74,102.62 563.03,102.28 563.32,101.93 563.61,101.58 563.91,101.23 564.2,100.89 564.49,100.54 564.78,100.19 565.08,99.84 565.37,99.5 565.66,99.15 565.95,98.8 566.25,98.45 566.54,98.11 566.83,97.76 567.12,97.41 567.41,97.06 567.71,96.72 568,96.37 568.29,96.02 568.58,95.67 568.88,95.33 569.17,94.98 569.46,94.63 569.75,94.28 570.04,93.94 570.34,93.59 570.63,93.24 570.92,92.9 571.21,92.55 571.51,92.2 571.8,91.85 572.09,91.51 572.38,91.16 572.67,90.81 572.97,90.46 573.26,90.12 573.55,89.77 573.84,89.42 574.14,89.07 574.43,88.73 574.72,88.38 575.01,88.03 575.3,87.68 575.6,87.34 575.89,86.99 576.18,86.64 576.47,86.3 576.77,85.95 577.06,85.6 577.35,85.25 577.64,84.91 577.93,84.56 578.23,84.21 578.52,83.86 578.81,83.52 579.1,83.17 579.4,82.82 579.69,82.48 579.98,82.13 580.27,81.78 580.57,81.43 580.86,81.09 581.15,80.74 581.44,80.39 581.73,80.05 582.03,79.7 582.32,79.35 582.61,79.01 582.9,78.66 583.2,78.31 583.49,77.96 583.78,77.62 584.07,77.27 584.36,76.92 584.66,76.58 584.95,76.23 585.24,75.88 585.53,75.54 585.83,75.19 586.12,74.84 586.41,74.5 586.7,74.15 586.99,73.81 587.29,73.46 587.58,73.11 587.87,72.77 588.16,72.42 588.46,72.08 588.75,71.73 589.04,71.38 589.33,71.04 589.62,70.69 589.92,70.35 590.21,70 590.5,69.66 590.79,69.31 591.09,68.97 591.38,68.62 591.67,68.28 591.96,67.93 592.26,67.59 592.55,67.24 592.84,66.9 593.13,66.55 593.42,66.21 593.72,65.87 594.01,65.52 594.3,65.18 594.59,64.84 594.89,64.49 595.18,64.15 595.47,63.81 595.76,63.47 596.05,63.12 596.35,62.78 596.64,62.44 596.93,62.1 597.22,61.76 597.52,61.42 597.81,61.08 598.1,60.74 598.39,60.4 598.68,60.06 598.98,59.73 599.27,59.39 599.56,59.05 599.85,58.72 600.15,58.38 600.44,58.05 600.73,57.71 601.02,57.38 601.31,57.04 601.61,56.71 601.9,56.38 602.19,56.05 602.48,55.72 602.78,55.39 603.07,55.06 603.36,54.74 603.65,54.41 603.95,54.08 604.24,53.76 604.53,53.44 604.82,53.12 605.11,52.8 605.41,52.48 605.7,52.16 605.99,51.85 606.28,51.53 606.58,51.22 606.87,50.91 607.16,50.6 607.45,50.3 607.74,49.99 608.04,49.69 608.33,49.39 608.62,49.09 608.91,48.8 609.21,48.5 609.5,48.21 609.79,47.93 610.08,47.64 610.37,47.36 610.67,47.08 610.96,46.81 611.25,46.53 611.54,46.27 611.84,46 612.13,45.74 612.42,45.49 612.71,45.23 613,44.99 613.3,44.74 613.59,44.5 613.88,44.27 614.17,44.04 614.47,43.82 614.76,43.6 615.05,43.39 615.34,43.18 615.64,42.98 615.93,42.78 616.22,42.6 616.51,42.41 616.8,42.24 617.1,42.07 617.39,41.91 617.68,41.75 617.97,41.61 618.27,41.47 618.56,41.33 618.85,41.21 619.14,41.09 619.43,40.98 619.73,40.88 620.02,40.79 620.31,40.71 620.6,40.63 620.9,40.56 621.19,40.51 621.48,40.46 621.77,40.42 622.06,40.38 622.36,40.36 622.65,40.35 622.94,40.34 623.23,40.35 623.53,40.36 623.82,40.38 624.11,40.41 624.4,40.45 624.69,40.5 624.99,40.56 625.28,40.63 625.57,40.7 625.86,40.78 626.16,40.88 626.45,40.98 626.74,41.08 627.03,41.2 627.33,41.32 627.62,41.46 627.91,41.59 628.2,41.74 628.49,41.9 628.79,42.06 629.08,42.22 629.37,42.4 629.66,42.58 629.96,42.77 630.25,42.96 630.54,43.16 630.83,43.37 631.12,43.58 631.42,43.8 631.71,44.02 632,44.25 632.29,44.48 632.59,44.72 632.88,44.96 633.17,45.21 633.46,45.46 633.75,45.71 634.05,45.97 634.34,46.23 634.63,46.5 634.92,46.77 635.22,47.05 635.51,47.32 635.8,47.6 636.09,47.89 636.38,48.17 636.68,48.46 636.97,48.75 637.26,49.05 637.55,49.34 637.85,49.64 638.14,49.94 638.43,50.24 638.72,50.55 639.02,50.86 639.31,51.17 639.6,51.48 639.89,51.79 640.18,52.1 640.48,52.42 640.77,52.73 641.06,53.05 641.35,53.37 641.65,53.69 641.94,54.02 642.23,54.34 642.52,54.66 642.81,54.99 643.11,55.32 643.4,55.64 643.69,55.97 643.98,56.3 644.28,56.63 644.57,56.96 644.86,57.29 645.15,57.62 645.44,57.96 645.74,58.29 646.03,58.62 646.32,58.96 646.61,59.29 646.91,59.63 647.2,59.97 647.49,60.3 647.78,60.64 648.07,60.98 648.37,61.32 648.66,61.66 648.95,61.99 649.24,62.33 649.54,62.67 649.83,63.01 650.12,63.35 650.41,63.69 650.71,64.03 651,64.37 651.29,64.72 651.58,65.06 651.87,65.4 652.17,65.74 652.46,66.08 652.75,66.42 653.04,66.77 653.34,67.11 653.63,67.45 653.92,67.79 654.21,68.14 654.5,68.48 654.8,68.82 655.09,69.17 655.38,69.51 655.67,69.85 655.97,70.2 656.26,70.54 656.55,70.89 656.84,71.23 657.13,71.57 657.43,71.92 657.72,72.26 658.01,72.61 658.3,72.95 658.6,73.3 658.89,73.64 659.18,73.99 659.47,74.33 659.76,74.68 660.06,75.02 660.35,75.36 660.64,75.71 660.93,76.05 661.23,76.4 661.52,76.74 661.81,77.09 662.1,77.43 662.4,77.78 662.69,78.13 662.98,78.47 663.27,78.82 663.56,79.16 663.86,79.51 664.15,79.85 664.44,80.2 664.73,80.54 665.03,80.89 665.32,81.23 665.61,81.58 665.9,81.92 666.19,82.27 666.49,82.61 666.78,82.96 667.07,83.31 667.36,83.65 667.66,84 667.95,84.34 668.24,84.69 668.53,85.03 668.82,85.38 669.12,85.72 669.41,86.07 669.7,86.42 669.99,86.76 670.29,87.11 670.58,87.45 670.87,87.8 671.16,88.14 671.45,88.49 671.75,88.83 672.04,89.18 672.33,89.53 672.62,89.87 672.92,90.22 673.21,90.56 673.5,90.91 673.79,91.25 674.09,91.6 674.38,91.95 674.67,92.29 674.96,92.64 675.25,92.98 675.55,93.33 675.84,93.67 676.13,94.02 676.42,94.37 676.72,94.71 677.01,95.06 677.3,95.4" fill="none" stroke="#111" stroke-width="1" stroke-linejoin="round" />
<polyline points="560.4,117.2 560.69,116.85 560.98,116.51 561.28,116.16 561.57,115.81 561.86,115.46 562.15,115.12 562.45,114.77 562.74,114.42 563.03,114.07 563.32,113.73 563.61,113.38 563.91,113.03 564.2,112.68 564.49,112.34 564.78,111.99 565.08,111.64 565.37,111.29 565.66,110.95 565.95,110.6 566.25,110.25 566.54,109.9 566.83,109.56 567.12,109.21 567.41,108.86 567.71,108.51 568,108.17 568.29,107.82 568.58,107.47 568.88,107.12 569.17,106.78 569.46,106.43 569.75,106.08 570.04,105.74 570.34,105.39 570.63,105.04 570.92,104.69 571.21,104.35 571.51,104 571.8,103.65 572.09,103.3 572.38,102.96 572.67,102.61 572.97,102.26 573.26,101.91 573.55,101.57 573.84,101.22 574.14,100.87 574.43,100.53 574.72,100.18 575.01,99.83 575.3,99.48 575.6,99.14 575.89,98.79 576.18,98.44 576.47,98.09 576.77,97.75 577.06,97.4 577.35,97.05 577.64,96.71 577.93,96.36 578.23,96.01 578.52,95.66 578.81,95.32 579.1,94.97 579.4,94.62 579.69,94.28 579.98,93.93 580.27,93.58 580.57,93.24 580.86,92.89 581.15,92.54 581.44,92.19 581.73,91.85 582.03,91.5 582.32,91.15 582.61,90.81 582.9,90.46 583.2,90.11 583.49,89.77 583.78,89.42 584.07,89.07 584.36,88.73 584.66,88.38 584.95,88.03 585.24,87.69 585.53,87.34 585.83,87 586.12,86.65 586.41,86.3 586.7,85.96 586.99,85.61 587.29,85.26 587.58,84.92 587.87,84.57 588.16,84.23 588.46,83.88 588.75,83.54 589.04,83.19 589.33,82.84 589.62,82.5 589.92,82.15 590.21,81.81 590.5,81.46 590.79,81.12 591.09,80.77 591.38,80.43 591.67,80.09 591.96,79.74 592.26,79.4 592.55,79.05 592.84,78.71 593.13,78.37 593.42,78.02 593.72,77.68 594.01,77.34 594.3,76.99 594.59,76.65 594.89,76.31 595.18,75.97 595.47,75.62 595.76,75.28 596.05,74.94 596.35,74.6 596.64,74.26 596.93,73.92 597.22,73.58 597.52,73.24 597.81,72.9 598.1,72.56 598.39,72.22 598.68,71.88 598.98,71.54 599.27,71.21 599.56,70.87 599.85,70.53 600.15,70.2 600.44,69.86 600.73,69.53 601.02,69.19 601.31,68.86 601.61,68.53 601.9,68.2 602.19,67.86 602.48,67.53 602.78,67.2 603.07,66.87 603.36,66.55 603.65,66.22 603.95,65.89 604.24,65.57 604.53,65.24 604.82,64.92 605.11,64.6 605.41,64.28 605.7,63.96 605.99,63.64 606.28,63.32 606.58,63 606.87,62.69 607.16,62.38 607.45,62.07 607.74,61.76 608.04,61.45 608.33,61.14 608.62,60.84 608.91,60.54 609.21,60.24 609.5,59.94 609.79,59.64 610.08,59.35 610.37,59.06 610.67,58.77 610.96,58.48 611.25,58.2 611.54,57.92 611.84,57.64 612.13,57.37 612.42,57.1 612.71,56.83 613,56.56 613.3,56.3 613.59,56.04 613.88,55.79 614.17,55.54 614.47,55.29 614.76,55.05 615.05,54.81 615.34,54.58 615.64,54.35 615.93,54.13 616.22,53.91 616.51,53.69 616.8,53.48 617.1,53.28 617.39,53.08 617.68,52.89 617.97,52.7 618.27,52.52 618.56,52.34 618.85,52.18 619.14,52.01 619.43,51.86 619.73,51.71 620.02,51.56 620.31,51.43 620.6,51.3 620.9,51.18 621.19,51.06 621.48,50.95 621.77,50.85 622.06,50.76 622.36,50.68 622.65,50.6 622.94,50.53 623.23,50.47 623.53,50.42 623.82,50.37 624.11,50.33 624.4,50.3 624.69,50.28 624.99,50.27 625.28,50.26 625.57,50.27 625.86,50.28 626.16,50.3 626.45,50.33 626.74,50.36 627.03,50.4 627.33,50.46 627.62,50.52 627.91,50.58 628.2,50.66 628.49,50.74 628.79,50.83 629.08,50.93 629.37,51.04 629.66,51.15 629.96,51.27 630.25,51.4 630.54,51.53 630.83,51.67 631.12,51.82 631.42,51.98 631.71,52.14 632,52.3 632.29,52.48 632.59,52.66 632.88,52.84 633.17,53.03 633.46,53.23 633.75,53.43 634.05,53.64 634.34,53.85 634.63,54.07 634.92,54.29 635.22,54.52 635.51,54.75 635.8,54.99 636.09,55.23 636.38,55.47 636.68,55.72 636.97,55.97 637.26,56.23 637.55,56.49 637.85,56.75 638.14,57.02 638.43,57.29 638.72,57.56 639.02,57.84 639.31,58.12 639.6,58.4 639.89,58.68 640.18,58.97 640.48,59.26 640.77,59.55 641.06,59.84 641.35,60.14 641.65,60.44 641.94,60.74 642.23,61.04 642.52,61.35 642.81,61.65 643.11,61.96 643.4,62.27 643.69,62.58 643.98,62.89 644.28,63.21 644.57,63.52 644.86,63.84 645.15,64.16 645.44,64.48 645.74,64.8 646.03,65.12 646.32,65.44 646.61,65.77 646.91,66.09 647.2,66.42 647.49,66.74 647.78,67.07 648.07,67.4 648.37,67.73 648.66,68.06 648.95,68.39 649.24,68.72 649.54,69.05 649.83,69.38 650.12,69.72 650.41,70.05 650.71,70.38 651,70.72 651.29,71.05 651.58,71.39 651.87,71.72 652.17,72.06 652.46,72.4 652.75,72.74 653.04,73.07 653.34,73.41 653.63,73.75 653.92,74.09 654.21,74.43 654.5,74.77 654.8,75.11 655.09,75.45 655.38,75.79 655.67,76.13 655.97,76.47 656.26,76.81 656.55,77.15 656.84,77.49 657.13,77.83 657.43,78.18 657.72,78.52 658.01,78.86 658.3,79.2 658.6,79.54 658.89,79.89 659.18,80.23 659.47,80.57 659.76,80.92 660.06,81.26 660.35,81.6 660.64,81.95 660.93,82.29 661.23,82.63 661.52,82.98 661.81,83.32 662.1,83.66 662.4,84.01 662.69,84.35 662.98,84.7 663.27,85.04 663.56,85.39 663.86,85.73 664.15,86.07 664.44,86.42 664.73,86.76 665.03,87.11 665.32,87.45 665.61,87.8 665.9,88.14 666.19,88.49 666.49,88.83 666.78,89.18 667.07,89.52 667.36,89.87 667.66,90.21 667.95,90.56 668.24,90.9 668.53,91.25 668.82,91.59 669.12,91.94 669.41,92.28 669.7,92.63 669.99,92.97 670.29,93.32 670.58,93.66 670.87,94.01 671.16,94.35 671.45,94.7 671.75,95.04 672.04,95.39 672.33,95.74 672.62,96.08 672.92,96.43 673.21,96.77 673.5,97.12 673.79,97.46 674.09,97.81 674.38,98.15 674.67,98.5 674.96,98.84 675.25,99.19 675.55,99.54 675.84,99.88 676.13,100.23 676.42,100.57 676.72,100.92 677.01,101.26 677.3,101.61" fill="none" stroke="#111" stroke-width="1" stroke-linejoin="round" />
<circle cx="580.3" cy="82.3" r="3.5" fill="none" stroke="#8e1818" stroke-width="0.9"/>
<circle cx="580.3" cy="89" r="3.5" fill="none" stroke="#8e1818" stroke-width="1.1"/>
<circle cx="580.3" cy="91.6" r="3.5" fill="none" stroke="#8e1818" stroke-width="1.1"/>
<circle cx="580.3" cy="94.7" r="3.5" fill="none" stroke="#8e1818" stroke-width="1.1"/>
<circle cx="589.4" cy="76.2" r="3.5" fill="none" stroke="#8e1818" stroke-width="1.3"/>
<circle cx="589.4" cy="77.9" r="3.5" fill="none" stroke="#8e1818" stroke-width="1.3"/>
<circle cx="589.4" cy="79.5" r="3.5" fill="none" stroke="#8e1818" stroke-width="1.3"/>
<circle cx="609.9" cy="52.8" r="3.5" fill="none" stroke="#8e1818" stroke-width="1.2"/>
<circle cx="609.9" cy="54.4" r="3.5" fill="none" stroke="#8e1818" stroke-width="1.2"/>
<circle cx="609.9" cy="56.1" r="3.5" fill="none" stroke="#8e1818" stroke-width="1.2"/>
<circle cx="609.9" cy="59.2" r="3.5" fill="none" stroke="#8e1818" stroke-width="1.1"/>
<circle cx="618.9" cy="44.8" r="3.5" fill="none" stroke="#8e1818" stroke-width="1.2"/>
<circle cx="618.9" cy="46.6" r="3.5" fill="none" stroke="#8e1818" stroke-width="1.2"/>
<circle cx="618.9" cy="48.2" r="3.5" fill="none" stroke="#8e1818" stroke-width="1.2"/>
<circle cx="618.9" cy="49.8" r="3.5" fill="none" stroke="#8e1818" stroke-width="1.2"/>
<circle cx="627.5" cy="56.7" r="3.5" fill="none" stroke="#8e1818" stroke-width="1.1"/>
<circle cx="627.5" cy="59.7" r="3.5" fill="none" stroke="#8e1818" stroke-width="1.1"/>
<circle cx="627.5" cy="62.9" r="3.5" fill="none" stroke="#8e1818" stroke-width="1.1"/>
<line x1="627.1" y1="120.3" x2="634" y2="120.3" stroke="#555" stroke-width="1.2" />
<text x="638.3" y="123.8" font-size="9" text-anchor="start" font-family='"Liberation Sans", sans-serif' fill="#111" >Theory</text>
<circle cx="630.4" cy="132.2" r="3.3" fill="none" stroke="#9a3535" stroke-width="1"/>
<text x="638.3" y="135.8" font-size="9" text-anchor="start" font-family='"Liberation Sans", sans-serif' fill="#111" >Data</text>
<text x="619" y="179.7" font-size="10.5" text-anchor="middle" font-family='"Liberation Sans", sans-serif' fill="#111"><tspan font-style="italic">L</tspan> (µm)</text>
<text transform="translate(528.4,98.2) rotate(-90)" font-size="11.2" font-family='"Liberation Sans", sans-serif' fill="#111"><tspan font-style="italic">R</tspan><tspan font-size="7.5" dy="2.8" font-style="italic">P</tspan><tspan dy="-2.8"> (</tspan><tspan font-style="italic">W</tspan><tspan font-size="7.5" dy="-4.5">−1</tspan><tspan dy="4.5">)</tspan></text>
<clipPath id="ce"><rect x="54.4" y="210.3" width="225.1" height="137.2"/></clipPath>
<g clip-path="url(#ce)">
<line x1="54.4" y1="339.52" x2="279.5" y2="339.52" stroke="#ababab" stroke-width="0.9" />
<line x1="54.4" y1="334.86" x2="279.5" y2="334.86" stroke="#ababab" stroke-width="0.9" />
<line x1="54.4" y1="331.55" x2="279.5" y2="331.55" stroke="#ababab" stroke-width="0.9" />
<line x1="54.4" y1="328.98" x2="279.5" y2="328.98" stroke="#ababab" stroke-width="0.9" />
<line x1="54.4" y1="326.88" x2="279.5" y2="326.88" stroke="#ababab" stroke-width="0.9" />
<line x1="54.4" y1="325.1" x2="279.5" y2="325.1" stroke="#ababab" stroke-width="0.9" />
<line x1="54.4" y1="323.57" x2="279.5" y2="323.57" stroke="#ababab" stroke-width="0.9" />
<line x1="54.4" y1="322.21" x2="279.5" y2="322.21" stroke="#ababab" stroke-width="0.9" />
<line x1="54.4" y1="321" x2="279.5" y2="321" stroke="#8c8c8c" stroke-width="0.9" />
<line x1="54.4" y1="313.02" x2="279.5" y2="313.02" stroke="#ababab" stroke-width="0.9" />
<line x1="54.4" y1="308.36" x2="279.5" y2="308.36" stroke="#ababab" stroke-width="0.9" />
<line x1="54.4" y1="305.05" x2="279.5" y2="305.05" stroke="#ababab" stroke-width="0.9" />
<line x1="54.4" y1="302.48" x2="279.5" y2="302.48" stroke="#ababab" stroke-width="0.9" />
<line x1="54.4" y1="300.38" x2="279.5" y2="300.38" stroke="#ababab" stroke-width="0.9" />
<line x1="54.4" y1="298.6" x2="279.5" y2="298.6" stroke="#ababab" stroke-width="0.9" />
<line x1="54.4" y1="297.07" x2="279.5" y2="297.07" stroke="#ababab" stroke-width="0.9" />
<line x1="54.4" y1="295.71" x2="279.5" y2="295.71" stroke="#ababab" stroke-width="0.9" />
<line x1="54.4" y1="294.5" x2="279.5" y2="294.5" stroke="#8c8c8c" stroke-width="0.9" />
<line x1="54.4" y1="286.52" x2="279.5" y2="286.52" stroke="#ababab" stroke-width="0.9" />
<line x1="54.4" y1="281.86" x2="279.5" y2="281.86" stroke="#ababab" stroke-width="0.9" />
<line x1="54.4" y1="278.55" x2="279.5" y2="278.55" stroke="#ababab" stroke-width="0.9" />
<line x1="54.4" y1="275.98" x2="279.5" y2="275.98" stroke="#ababab" stroke-width="0.9" />
<line x1="54.4" y1="273.88" x2="279.5" y2="273.88" stroke="#ababab" stroke-width="0.9" />
<line x1="54.4" y1="272.1" x2="279.5" y2="272.1" stroke="#ababab" stroke-width="0.9" />
<line x1="54.4" y1="270.57" x2="279.5" y2="270.57" stroke="#ababab" stroke-width="0.9" />
<line x1="54.4" y1="269.21" x2="279.5" y2="269.21" stroke="#ababab" stroke-width="0.9" />
<line x1="54.4" y1="268" x2="279.5" y2="268" stroke="#8c8c8c" stroke-width="0.9" />
<line x1="54.4" y1="260.02" x2="279.5" y2="260.02" stroke="#ababab" stroke-width="0.9" />
<line x1="54.4" y1="255.36" x2="279.5" y2="255.36" stroke="#ababab" stroke-width="0.9" />
<line x1="54.4" y1="252.05" x2="279.5" y2="252.05" stroke="#ababab" stroke-width="0.9" />
<line x1="54.4" y1="249.48" x2="279.5" y2="249.48" stroke="#ababab" stroke-width="0.9" />
<line x1="54.4" y1="247.38" x2="279.5" y2="247.38" stroke="#ababab" stroke-width="0.9" />
<line x1="54.4" y1="245.6" x2="279.5" y2="245.6" stroke="#ababab" stroke-width="0.9" />
<line x1="54.4" y1="244.07" x2="279.5" y2="244.07" stroke="#ababab" stroke-width="0.9" />
<line x1="54.4" y1="242.71" x2="279.5" y2="242.71" stroke="#ababab" stroke-width="0.9" />
<line x1="54.4" y1="241.5" x2="279.5" y2="241.5" stroke="#8c8c8c" stroke-width="0.9" />
<line x1="54.4" y1="233.52" x2="279.5" y2="233.52" stroke="#ababab" stroke-width="0.9" />
<line x1="54.4" y1="228.86" x2="279.5" y2="228.86" stroke="#ababab" stroke-width="0.9" />
<line x1="54.4" y1="225.55" x2="279.5" y2="225.55" stroke="#ababab" stroke-width="0.9" />
<line x1="54.4" y1="222.98" x2="279.5" y2="222.98" stroke="#ababab" stroke-width="0.9" />
<line x1="54.4" y1="220.88" x2="279.5" y2="220.88" stroke="#ababab" stroke-width="0.9" />
<line x1="54.4" y1="219.1" x2="279.5" y2="219.1" stroke="#ababab" stroke-width="0.9" />
<line x1="54.4" y1="217.57" x2="279.5" y2="217.57" stroke="#ababab" stroke-width="0.9" />
<line x1="54.4" y1="216.21" x2="279.5" y2="216.21" stroke="#ababab" stroke-width="0.9" />
<line x1="54.4" y1="215" x2="279.5" y2="215" stroke="#8c8c8c" stroke-width="0.9" />
<line x1="67.95" y1="210.3" x2="67.95" y2="347.5" stroke="#8a8a8a" stroke-width="0.85" />
<line x1="75.88" y1="210.3" x2="75.88" y2="347.5" stroke="#8a8a8a" stroke-width="0.85" />
<line x1="81.5" y1="210.3" x2="81.5" y2="347.5" stroke="#8a8a8a" stroke-width="0.85" />
<line x1="85.87" y1="210.3" x2="85.87" y2="347.5" stroke="#8a8a8a" stroke-width="0.85" />
<line x1="89.43" y1="210.3" x2="89.43" y2="347.5" stroke="#8a8a8a" stroke-width="0.85" />
<line x1="92.45" y1="210.3" x2="92.45" y2="347.5" stroke="#8a8a8a" stroke-width="0.85" />
<line x1="95.06" y1="210.3" x2="95.06" y2="347.5" stroke="#8a8a8a" stroke-width="0.85" />
<line x1="97.36" y1="210.3" x2="97.36" y2="347.5" stroke="#8a8a8a" stroke-width="0.85" />
<line x1="99.42" y1="210.3" x2="99.42" y2="347.5" stroke="#8a8a8a" stroke-width="0.85" />
<line x1="112.97" y1="210.3" x2="112.97" y2="347.5" stroke="#8a8a8a" stroke-width="0.85" />
<line x1="120.9" y1="210.3" x2="120.9" y2="347.5" stroke="#8a8a8a" stroke-width="0.85" />
<line x1="126.52" y1="210.3" x2="126.52" y2="347.5" stroke="#8a8a8a" stroke-width="0.85" />
<line x1="130.89" y1="210.3" x2="130.89" y2="347.5" stroke="#8a8a8a" stroke-width="0.85" />
<line x1="134.45" y1="210.3" x2="134.45" y2="347.5" stroke="#8a8a8a" stroke-width="0.85" />
<line x1="137.47" y1="210.3" x2="137.47" y2="347.5" stroke="#8a8a8a" stroke-width="0.85" />
<line x1="140.08" y1="210.3" x2="140.08" y2="347.5" stroke="#8a8a8a" stroke-width="0.85" />
<line x1="142.38" y1="210.3" x2="142.38" y2="347.5" stroke="#8a8a8a" stroke-width="0.85" />
<line x1="144.44" y1="210.3" x2="144.44" y2="347.5" stroke="#8a8a8a" stroke-width="0.85" />
<line x1="157.99" y1="210.3" x2="157.99" y2="347.5" stroke="#8a8a8a" stroke-width="0.85" />
<line x1="165.92" y1="210.3" x2="165.92" y2="347.5" stroke="#8a8a8a" stroke-width="0.85" />
<line x1="171.54" y1="210.3" x2="171.54" y2="347.5" stroke="#8a8a8a" stroke-width="0.85" />
<line x1="175.91" y1="210.3" x2="175.91" y2="347.5" stroke="#8a8a8a" stroke-width="0.85" />
<line x1="179.47" y1="210.3" x2="179.47" y2="347.5" stroke="#8a8a8a" stroke-width="0.85" />
<line x1="182.49" y1="210.3" x2="182.49" y2="347.5" stroke="#8a8a8a" stroke-width="0.85" />
<line x1="185.1" y1="210.3" x2="185.1" y2="347.5" stroke="#8a8a8a" stroke-width="0.85" />
<line x1="187.4" y1="210.3" x2="187.4" y2="347.5" stroke="#8a8a8a" stroke-width="0.85" />
<line x1="189.46" y1="210.3" x2="189.46" y2="347.5" stroke="#8a8a8a" stroke-width="0.85" />
<line x1="203.01" y1="210.3" x2="203.01" y2="347.5" stroke="#8a8a8a" stroke-width="0.85" />
<line x1="210.94" y1="210.3" x2="210.94" y2="347.5" stroke="#8a8a8a" stroke-width="0.85" />
<line x1="216.56" y1="210.3" x2="216.56" y2="347.5" stroke="#8a8a8a" stroke-width="0.85" />
<line x1="220.93" y1="210.3" x2="220.93" y2="347.5" stroke="#8a8a8a" stroke-width="0.85" />
<line x1="224.49" y1="210.3" x2="224.49" y2="347.5" stroke="#8a8a8a" stroke-width="0.85" />
<line x1="227.51" y1="210.3" x2="227.51" y2="347.5" stroke="#8a8a8a" stroke-width="0.85" />
<line x1="230.12" y1="210.3" x2="230.12" y2="347.5" stroke="#8a8a8a" stroke-width="0.85" />
<line x1="232.42" y1="210.3" x2="232.42" y2="347.5" stroke="#8a8a8a" stroke-width="0.85" />
<line x1="234.48" y1="210.3" x2="234.48" y2="347.5" stroke="#8a8a8a" stroke-width="0.85" />
<line x1="248.03" y1="210.3" x2="248.03" y2="347.5" stroke="#8a8a8a" stroke-width="0.85" />
<line x1="255.96" y1="210.3" x2="255.96" y2="347.5" stroke="#8a8a8a" stroke-width="0.85" />
<line x1="261.58" y1="210.3" x2="261.58" y2="347.5" stroke="#8a8a8a" stroke-width="0.85" />
<line x1="265.95" y1="210.3" x2="265.95" y2="347.5" stroke="#8a8a8a" stroke-width="0.85" />
<line x1="269.51" y1="210.3" x2="269.51" y2="347.5" stroke="#8a8a8a" stroke-width="0.85" />
<line x1="272.53" y1="210.3" x2="272.53" y2="347.5" stroke="#8a8a8a" stroke-width="0.85" />
<line x1="275.14" y1="210.3" x2="275.14" y2="347.5" stroke="#8a8a8a" stroke-width="0.85" />
<line x1="277.44" y1="210.3" x2="277.44" y2="347.5" stroke="#8a8a8a" stroke-width="0.85" />
<rect x="54.4" y="210.3" width="22.9" height="137.2" fill="#c2c2c2" fill-opacity="0.92"/>
<line x1="77.4" y1="210.3" x2="77.4" y2="347.5" stroke="#1a1a1a" stroke-width="1.05" stroke-dasharray="2.4,0.9"/>
<line x1="184.4" y1="210.3" x2="184.4" y2="347.5" stroke="#c0282d" stroke-width="1" stroke-dasharray="2,1.2"/>
<line x1="248.4" y1="210.3" x2="248.4" y2="347.5" stroke="#3232d0" stroke-width="1" stroke-dasharray="2,1.2"/>
<polyline points="80,348.2 80.62,348.04 81.46,347.84 82.45,347.59 83.56,347.31 84.71,347.02 85.88,346.73 86.99,346.45 88,346.2 88.88,346 89.66,345.85 90.39,345.72 91.12,345.59 91.91,345.42 92.8,345.18 93.85,344.85 95.1,344.4 96.61,343.8 98.34,343.06 100.24,342.22 102.24,341.32 104.28,340.39 106.3,339.47 108.22,338.6 110,337.8 111.63,337.08 113.18,336.39 114.67,335.73 116.12,335.09 117.55,334.45 119,333.82 120.47,333.17 122,332.5 123.56,331.82 125.13,331.14 126.71,330.45 128.31,329.76 129.93,329.06 131.59,328.36 133.27,327.64 135,326.9 136.78,326.15 138.61,325.38 140.48,324.59 142.38,323.8 144.29,323 146.2,322.2 148.11,321.4 150,320.6 151.91,319.79 153.87,318.96 155.84,318.11 157.81,317.27 159.74,316.44 161.6,315.65 163.36,314.9 165,314.2 166.49,313.57 167.86,312.99 169.14,312.45 170.34,311.94 171.51,311.45 172.65,310.97 173.81,310.49 175,310 176.23,309.5 177.46,308.99 178.69,308.49 179.91,307.99 181.11,307.51 182.28,307.05 183.41,306.61 184.5,306.2 185.53,305.82 186.5,305.47 187.44,305.15 188.34,304.84 189.24,304.55 190.14,304.27 191.05,303.98 192,303.7 192.96,303.42 193.92,303.15 194.88,302.89 195.84,302.64 196.83,302.38 197.85,302.13 198.9,301.87 200,301.6 201.15,301.32 202.35,301.03 203.59,300.73 204.86,300.43 206.15,300.13 207.44,299.84 208.73,299.56 210,299.3 211.27,299.06 212.55,298.82 213.84,298.6 215.13,298.39 216.42,298.18 217.69,297.98 218.96,297.79 220.2,297.6 221.42,297.42 222.63,297.26 223.83,297.11 225.02,296.96 226.2,296.81 227.37,296.65 228.54,296.48 229.7,296.3 230.87,296.11 232.03,295.91 233.2,295.71 234.36,295.49 235.5,295.27 236.63,295.03 237.73,294.78 238.8,294.5 239.83,294.2 240.8,293.88 241.75,293.55 242.68,293.2 243.61,292.84 244.57,292.47 245.56,292.09 246.6,291.7 247.7,291.31 248.84,290.9 250.02,290.49 251.21,290.07 252.42,289.64 253.63,289.2 254.82,288.75 256,288.3 257.18,287.83 258.37,287.33 259.57,286.83 260.76,286.31 261.93,285.8 263.07,285.31 264.17,284.84 265.2,284.4 266.16,284 267.04,283.63 267.87,283.28 268.67,282.95 269.47,282.62 270.27,282.3 271.11,281.96 272,281.6 273,281.21 274.1,280.77 275.26,280.32 276.43,279.88 277.53,279.45 278.53,279.06 279.37,278.74 280,278.5" fill="none" stroke="#8c35c8" stroke-width="1" stroke-linejoin="round" />
<polyline points="140,260.5 140.78,260.95 141.82,261.55 143.07,262.26 144.45,263.05 145.9,263.88 147.35,264.7 148.74,265.49 150,266.2 151.14,266.83 152.23,267.44 153.28,268.01 154.32,268.58 155.38,269.15 156.46,269.74 157.59,270.35 158.8,271 160.06,271.68 161.35,272.38 162.68,273.1 164.04,273.84 165.45,274.59 166.91,275.37 168.43,276.17 170,277 171.7,277.88 173.56,278.83 175.5,279.81 177.48,280.81 179.43,281.8 181.29,282.74 183,283.62 184.5,284.4 185.77,285.08 186.86,285.68 187.8,286.22 188.66,286.72 189.46,287.19 190.25,287.65 191.09,288.11 192,288.6 192.98,289.11 193.99,289.61 195.01,290.11 196.03,290.6 197.05,291.09 198.06,291.57 199.04,292.04 200,292.5 200.91,292.95 201.79,293.39 202.63,293.81 203.47,294.23 204.31,294.65 205.17,295.06 206.06,295.48 207,295.9 208,296.33 209.04,296.75 210.12,297.18 211.22,297.61 212.32,298.03 213.41,298.46 214.48,298.88 215.5,299.3 216.48,299.72 217.43,300.13 218.36,300.55 219.28,300.96 220.19,301.37 221.11,301.78 222.05,302.19 223,302.6 223.97,303.01 224.94,303.41 225.92,303.81 226.91,304.21 227.9,304.61 228.92,305.01 229.95,305.41 231,305.8 232.08,306.19 233.2,306.59 234.34,306.98 235.49,307.38 236.65,307.76 237.79,308.15 238.91,308.53 240,308.9 241.04,309.26 242.05,309.62 243.02,309.97 243.99,310.32 244.97,310.66 245.97,311.01 247.01,311.35 248.1,311.7 249.25,312.05 250.45,312.39 251.68,312.74 252.93,313.08 254.2,313.43 255.48,313.78 256.75,314.14 258,314.5 259.23,314.87 260.45,315.24 261.65,315.62 262.87,316 264.1,316.39 265.36,316.78 266.65,317.19 268,317.6 269.49,318.05 271.14,318.55 272.88,319.07 274.62,319.59 276.29,320.09 277.8,320.54 279.06,320.92 280,321.2" fill="none" stroke="#2020d8" stroke-width="1" stroke-linejoin="round" />
<polyline points="54.4,343.79 55.15,343.57 55.9,343.35 56.65,343.13 57.4,342.91 58.15,342.69 58.9,342.47 59.65,342.25 60.4,342.03 61.15,341.81 61.9,341.59 62.65,341.37 63.4,341.15 64.15,340.93 64.9,340.71 65.66,340.49 66.41,340.27 67.16,340.04 67.91,339.82 68.66,339.6 69.41,339.38 70.16,339.16 70.91,338.94 71.66,338.72 72.41,338.5 73.16,338.28 73.91,338.06 74.66,337.84 75.41,337.62 76.16,337.4 76.91,337.18 77.66,336.96 78.41,336.74 79.16,336.52 79.91,336.3 80.66,336.08 81.41,335.86 82.16,335.64 82.91,335.42 83.66,335.2 84.41,334.98 85.16,334.76 85.91,334.54 86.66,334.32 87.41,334.1 88.16,333.88 88.92,333.66 89.67,333.44 90.42,333.22 91.17,333 91.92,332.78 92.67,332.56 93.42,332.34 94.17,332.12 94.92,331.9 95.67,331.68 96.42,331.46 97.17,331.24 97.92,331.03 98.67,330.81 99.42,330.59 100.17,330.37 100.92,330.15 101.67,329.93 102.42,329.71 103.17,329.49 103.92,329.27 104.67,329.06 105.42,328.84 106.17,328.62 106.92,328.4 107.67,328.18 108.42,327.96 109.17,327.75 109.92,327.53 110.67,327.31 111.43,327.09 112.18,326.88 112.93,326.66 113.68,326.44 114.43,326.22 115.18,326.01 115.93,325.79 116.68,325.57 117.43,325.36 118.18,325.14 118.93,324.92 119.68,324.71 120.43,324.49 121.18,324.28 121.93,324.06 122.68,323.85 123.43,323.63 124.18,323.42 124.93,323.2 125.68,322.99 126.43,322.78 127.18,322.56 127.93,322.35 128.68,322.14 129.43,321.92 130.18,321.71 130.93,321.5 131.68,321.29 132.43,321.07 133.19,320.86 133.94,320.65 134.69,320.44 135.44,320.23 136.19,320.02 136.94,319.81 137.69,319.6 138.44,319.4 139.19,319.19 139.94,318.98 140.69,318.77 141.44,318.57 142.19,318.36 142.94,318.16 143.69,317.95 144.44,317.75 145.19,317.55 145.94,317.34 146.69,317.14 147.44,316.94 148.19,316.74 148.94,316.54 149.69,316.34 150.44,316.14 151.19,315.95 151.94,315.75 152.69,315.55 153.44,315.36 154.19,315.17 154.94,314.97 155.69,314.78 156.45,314.59 157.2,314.4 157.95,314.21 158.7,314.03 159.45,313.84 160.2,313.66 160.95,313.47 161.7,313.29 162.45,313.11 163.2,312.93 163.95,312.75 164.7,312.58 165.45,312.4 166.2,312.23 166.95,312.06 167.7,311.89 168.45,311.72 169.2,311.56 169.95,311.39 170.7,311.23 171.45,311.07 172.2,310.91 172.95,310.76 173.7,310.6 174.45,310.45 175.2,310.3 175.95,310.15 176.7,310.01 177.45,309.87 178.2,309.73 178.96,309.59 179.71,309.45 180.46,309.32 181.21,309.19 181.96,309.07 182.71,308.94 183.46,308.82 184.21,308.71 184.96,308.59 185.71,308.48 186.46,308.37 187.21,308.27 187.96,308.17 188.71,308.07 189.46,307.97 190.21,307.88 190.96,307.79 191.71,307.71 192.46,307.63 193.21,307.55 193.96,307.48 194.71,307.41 195.46,307.35 196.21,307.28 196.96,307.23 197.71,307.17 198.46,307.12 199.21,307.08 199.96,307.04 200.72,307 201.47,306.97 202.22,306.94 202.97,306.91 203.72,306.89 204.47,306.87 205.22,306.86 205.97,306.85 206.72,306.85 207.47,306.85 208.22,306.86 208.97,306.86 209.72,306.88 210.47,306.89 211.22,306.92 211.97,306.94 212.72,306.97 213.47,307.01 214.22,307.04 214.97,307.09 215.72,307.13 216.47,307.18 217.22,307.24 217.97,307.3 218.72,307.36 219.47,307.42 220.22,307.49 220.97,307.57 221.72,307.65 222.47,307.73 223.22,307.81 223.98,307.9 224.73,307.99 225.48,308.09 226.23,308.19 226.98,308.29 227.73,308.39 228.48,308.5 229.23,308.61 229.98,308.73 230.73,308.85 231.48,308.97 232.23,309.09 232.98,309.22 233.73,309.35 234.48,309.48 235.23,309.62 235.98,309.75 236.73,309.89 237.48,310.04 238.23,310.18 238.98,310.33 239.73,310.48 240.48,310.63 241.23,310.79 241.98,310.94 242.73,311.1 243.48,311.26 244.23,311.42 244.98,311.59 245.73,311.76 246.49,311.92 247.24,312.09 247.99,312.27 248.74,312.44 249.49,312.61 250.24,312.79 250.99,312.97 251.74,313.15 252.49,313.33 253.24,313.51 253.99,313.69 254.74,313.88 255.49,314.06 256.24,314.25 256.99,314.44 257.74,314.63 258.49,314.82 259.24,315.01 259.99,315.21 260.74,315.4 261.49,315.59 262.24,315.79 262.99,315.99 263.74,316.18 264.49,316.38 265.24,316.58 265.99,316.78 266.74,316.98 267.49,317.18 268.24,317.38 269,317.59 269.75,317.79 270.5,317.99 271.25,318.2 272,318.4 272.75,318.61 273.5,318.82 274.25,319.02 275,319.23 275.75,319.44 276.5,319.65 277.25,319.86 278,320.06 278.75,320.27 279.5,320.48" fill="none" stroke="#cc2a2a" stroke-width="1" stroke-linejoin="round" />
<polyline points="54.4,236.6 54.9,236.41 55.56,236.16 56.34,235.85 57.22,235.52 58.15,235.17 59.12,234.82 60.08,234.49 61,234.2 61.9,233.93 62.81,233.65 63.74,233.37 64.68,233.1 65.65,232.85 66.64,232.63 67.65,232.44 68.7,232.3 69.79,232.2 70.94,232.13 72.13,232.09 73.33,232.09 74.54,232.11 75.73,232.15 76.89,232.22 78,232.3 79.05,232.41 80.07,232.54 81.05,232.7 82.01,232.89 82.98,233.09 83.95,233.31 84.96,233.55 86,233.8 87.09,234.06 88.2,234.34 89.34,234.64 90.49,234.96 91.65,235.29 92.81,235.64 93.96,236.01 95.1,236.4 96.23,236.81 97.36,237.25 98.48,237.72 99.61,238.19 100.72,238.69 101.83,239.19 102.92,239.69 104,240.2 105.05,240.71 106.07,241.22 107.08,241.74 108.08,242.26 109.08,242.8 110.09,243.35 111.13,243.92 112.2,244.5 113.32,245.11 114.47,245.73 115.64,246.38 116.83,247.04 118.02,247.7 119.21,248.37 120.37,249.04 121.5,249.7 122.59,250.36 123.65,251.02 124.68,251.68 125.71,252.35 126.74,253.02 127.79,253.68 128.87,254.34 130,255 131.18,255.65 132.39,256.29 133.62,256.93 134.88,257.57 136.15,258.21 137.44,258.86 138.72,259.52 140,260.2 141.31,260.92 142.67,261.69 144.06,262.48 145.44,263.27 146.79,264.05 148.09,264.77 149.3,265.43 150.4,266 151.39,266.46 152.29,266.84 153.11,267.16 153.88,267.43 154.59,267.66 155.28,267.89 155.94,268.13 156.6,268.4 157.23,268.68 157.81,268.96 158.36,269.24 158.88,269.51 159.39,269.78 159.91,270.05 160.44,270.33 161,270.6 161.59,270.88 162.21,271.16 162.84,271.45 163.47,271.73 164.1,272.01 164.72,272.29 165.32,272.55 165.9,272.8 166.45,273.04 166.98,273.26 167.49,273.47 167.99,273.68 168.49,273.88 168.99,274.09 169.49,274.29 170,274.5 170.52,274.71 171.03,274.91 171.54,275.11 172.06,275.31 172.58,275.52 173.11,275.73 173.65,275.96 174.2,276.2 174.77,276.46 175.36,276.74 175.97,277.04 176.58,277.34 177.2,277.65 177.81,277.95 178.41,278.23 179,278.5 179.58,278.75 180.17,279 180.75,279.25 181.33,279.48 181.9,279.71 182.45,279.92 182.99,280.12 183.5,280.3 183.98,280.46 184.41,280.61 184.83,280.73 185.23,280.85 185.64,280.96 186.06,281.07 186.51,281.18 187,281.3 187.51,281.43 188.03,281.55 188.56,281.68 189.11,281.81 189.69,281.93 190.33,282.06 191.03,282.18 191.8,282.3 192.65,282.42 193.57,282.53 194.55,282.65 195.58,282.76 196.64,282.87 197.74,282.98 198.87,283.09 200,283.2 201.16,283.31 202.37,283.42 203.61,283.52 204.88,283.63 206.16,283.73 207.44,283.83 208.73,283.92 210,284 211.25,284.08 212.5,284.17 213.74,284.25 214.99,284.32 216.25,284.38 217.53,284.42 218.85,284.43 220.2,284.4 221.58,284.33 222.97,284.23 224.38,284.1 225.82,283.94 227.3,283.77 228.82,283.59 230.38,283.39 232,283.2 233.73,282.99 235.58,282.77 237.5,282.53 239.45,282.28 241.38,282.03 243.25,281.78 245,281.53 246.6,281.3 248.03,281.08 249.32,280.86 250.52,280.65 251.65,280.44 252.73,280.24 253.8,280.03 254.88,279.82 256,279.6 257.16,279.38 258.33,279.15 259.49,278.92 260.65,278.69 261.79,278.46 262.9,278.24 263.97,278.02 265,277.8 265.96,277.59 266.87,277.39 267.73,277.2 268.56,277.01 269.39,276.81 270.23,276.62 271.09,276.41 272,276.2 273.01,275.96 274.12,275.7 275.28,275.43 276.44,275.15 277.54,274.89 278.54,274.65 279.38,274.45 280,274.3" fill="none" stroke="#1f7a1f" stroke-width="1" stroke-linejoin="round" />
<polyline points="54.4,224 55.26,224.01 56.38,224.01 57.73,224.02 59.22,224.03 60.82,224.05 62.45,224.1 64.07,224.18 65.6,224.3 67.06,224.43 68.51,224.56 69.96,224.71 71.43,224.88 72.95,225.11 74.54,225.41 76.22,225.8 78,226.3 79.91,226.91 81.94,227.63 84.07,228.42 86.26,229.29 88.48,230.23 90.71,231.21 92.93,232.24 95.1,233.3 97.3,234.45 99.59,235.72 101.92,237.08 104.23,238.47 106.47,239.84 108.58,241.15 110.51,242.36 112.2,243.4 113.62,244.28 114.8,245.03 115.81,245.69 116.68,246.28 117.48,246.83 118.27,247.36 119.09,247.91 120,248.5 120.94,249.1 121.85,249.66 122.73,250.22 123.62,250.77 124.55,251.34 125.54,251.94 126.61,252.59 127.8,253.3 129.13,254.1 130.59,254.97 132.15,255.89 133.76,256.84 135.39,257.8 137,258.75 138.55,259.66 140,260.5 141.36,261.29 142.68,262.05 143.96,262.79 145.21,263.5 146.43,264.19 147.64,264.87 148.82,265.54 150,266.2 151.14,266.83 152.23,267.44 153.28,268.01 154.32,268.58 155.38,269.15 156.46,269.74 157.59,270.35 158.8,271 160.06,271.68 161.35,272.38 162.68,273.1 164.04,273.84 165.45,274.59 166.91,275.37 168.43,276.17 170,277 171.7,277.88 173.56,278.84 175.5,279.84 177.48,280.85 179.43,281.84 181.29,282.78 183,283.65 184.5,284.4 185.77,285.04 186.86,285.58 187.8,286.05 188.66,286.47 189.46,286.86 190.25,287.23 191.09,287.6 192,288 192.96,288.41 193.92,288.8 194.88,289.19 195.84,289.56 196.83,289.93 197.85,290.29 198.9,290.65 200,291 201.15,291.35 202.35,291.71 203.59,292.07 204.86,292.41 206.15,292.75 207.44,293.06 208.73,293.34 210,293.6 211.26,293.83 212.52,294.03 213.78,294.21 215.05,294.36 216.32,294.5 217.6,294.62 218.89,294.72 220.2,294.8 221.53,294.87 222.9,294.91 224.29,294.95 225.67,294.96 227.06,294.95 228.41,294.92 229.73,294.87 231,294.8 232.22,294.71 233.4,294.59 234.55,294.44 235.67,294.28 236.77,294.1 237.86,293.91 238.93,293.71 240,293.5 241.06,293.28 242.09,293.05 243.11,292.82 244.12,292.56 245.12,292.3 246.11,292.01 247.1,291.72 248.1,291.4 249.09,291.07 250.06,290.71 251.02,290.35 251.98,289.96 252.95,289.57 253.94,289.15 254.95,288.73 256,288.3 257.1,287.84 258.26,287.36 259.46,286.85 260.67,286.33 261.87,285.82 263.04,285.32 264.16,284.84 265.2,284.4 266.16,284 267.04,283.63 267.87,283.28 268.67,282.95 269.47,282.62 270.27,282.3 271.11,281.96 272,281.6 273,281.21 274.1,280.77 275.26,280.32 276.43,279.88 277.53,279.45 278.53,279.06 279.37,278.74 280,278.5" fill="none" stroke="#111" stroke-width="1" stroke-linejoin="round" />
</g>
<line x1="54" y1="210.5" x2="280" y2="210.5" stroke="#555" stroke-width="1" />
<line x1="279.5" y1="210.5" x2="279.5" y2="347.5" stroke="#555" stroke-width="1" />
<line x1="54.5" y1="210.5" x2="54.5" y2="348" stroke="#555" stroke-width="1" />
<line x1="54" y1="347.5" x2="280" y2="347.5" stroke="#444" stroke-width="1" />
<line x1="52.5" y1="347.5" x2="54.5" y2="347.5" stroke="#555" stroke-width="0.7" />
<line x1="53.3" y1="339.52" x2="54.5" y2="339.52" stroke="#555" stroke-width="0.7" />
<line x1="53.3" y1="334.86" x2="54.5" y2="334.86" stroke="#555" stroke-width="0.7" />
<line x1="53.3" y1="331.55" x2="54.5" y2="331.55" stroke="#555" stroke-width="0.7" />
<line x1="53.3" y1="328.98" x2="54.5" y2="328.98" stroke="#555" stroke-width="0.7" />
<line x1="53.3" y1="326.88" x2="54.5" y2="326.88" stroke="#555" stroke-width="0.7" />
<line x1="53.3" y1="325.1" x2="54.5" y2="325.1" stroke="#555" stroke-width="0.7" />
<line x1="53.3" y1="323.57" x2="54.5" y2="323.57" stroke="#555" stroke-width="0.7" />
<line x1="53.3" y1="322.21" x2="54.5" y2="322.21" stroke="#555" stroke-width="0.7" />
<line x1="52.5" y1="321" x2="54.5" y2="321" stroke="#555" stroke-width="0.7" />
<line x1="53.3" y1="313.02" x2="54.5" y2="313.02" stroke="#555" stroke-width="0.7" />
<line x1="53.3" y1="308.36" x2="54.5" y2="308.36" stroke="#555" stroke-width="0.7" />
<line x1="53.3" y1="305.05" x2="54.5" y2="305.05" stroke="#555" stroke-width="0.7" />
<line x1="53.3" y1="302.48" x2="54.5" y2="302.48" stroke="#555" stroke-width="0.7" />
<line x1="53.3" y1="300.38" x2="54.5" y2="300.38" stroke="#555" stroke-width="0.7" />
<line x1="53.3" y1="298.6" x2="54.5" y2="298.6" stroke="#555" stroke-width="0.7" />
<line x1="53.3" y1="297.07" x2="54.5" y2="297.07" stroke="#555" stroke-width="0.7" />
<line x1="53.3" y1="295.71" x2="54.5" y2="295.71" stroke="#555" stroke-width="0.7" />
<line x1="52.5" y1="294.5" x2="54.5" y2="294.5" stroke="#555" stroke-width="0.7" />
<line x1="53.3" y1="286.52" x2="54.5" y2="286.52" stroke="#555" stroke-width="0.7" />
<line x1="53.3" y1="281.86" x2="54.5" y2="281.86" stroke="#555" stroke-width="0.7" />
<line x1="53.3" y1="278.55" x2="54.5" y2="278.55" stroke="#555" stroke-width="0.7" />
<line x1="53.3" y1="275.98" x2="54.5" y2="275.98" stroke="#555" stroke-width="0.7" />
<line x1="53.3" y1="273.88" x2="54.5" y2="273.88" stroke="#555" stroke-width="0.7" />
<line x1="53.3" y1="272.1" x2="54.5" y2="272.1" stroke="#555" stroke-width="0.7" />
<line x1="53.3" y1="270.57" x2="54.5" y2="270.57" stroke="#555" stroke-width="0.7" />
<line x1="53.3" y1="269.21" x2="54.5" y2="269.21" stroke="#555" stroke-width="0.7" />
<line x1="52.5" y1="268" x2="54.5" y2="268" stroke="#555" stroke-width="0.7" />
<line x1="53.3" y1="260.02" x2="54.5" y2="260.02" stroke="#555" stroke-width="0.7" />
<line x1="53.3" y1="255.36" x2="54.5" y2="255.36" stroke="#555" stroke-width="0.7" />
<line x1="53.3" y1="252.05" x2="54.5" y2="252.05" stroke="#555" stroke-width="0.7" />
<line x1="53.3" y1="249.48" x2="54.5" y2="249.48" stroke="#555" stroke-width="0.7" />
<line x1="53.3" y1="247.38" x2="54.5" y2="247.38" stroke="#555" stroke-width="0.7" />
<line x1="53.3" y1="245.6" x2="54.5" y2="245.6" stroke="#555" stroke-width="0.7" />
<line x1="53.3" y1="244.07" x2="54.5" y2="244.07" stroke="#555" stroke-width="0.7" />
<line x1="53.3" y1="242.71" x2="54.5" y2="242.71" stroke="#555" stroke-width="0.7" />
<line x1="52.5" y1="241.5" x2="54.5" y2="241.5" stroke="#555" stroke-width="0.7" />
<line x1="53.3" y1="233.52" x2="54.5" y2="233.52" stroke="#555" stroke-width="0.7" />
<line x1="53.3" y1="228.86" x2="54.5" y2="228.86" stroke="#555" stroke-width="0.7" />
<line x1="53.3" y1="225.55" x2="54.5" y2="225.55" stroke="#555" stroke-width="0.7" />
<line x1="53.3" y1="222.98" x2="54.5" y2="222.98" stroke="#555" stroke-width="0.7" />
<line x1="53.3" y1="220.88" x2="54.5" y2="220.88" stroke="#555" stroke-width="0.7" />
<line x1="53.3" y1="219.1" x2="54.5" y2="219.1" stroke="#555" stroke-width="0.7" />
<line x1="53.3" y1="217.57" x2="54.5" y2="217.57" stroke="#555" stroke-width="0.7" />
<line x1="53.3" y1="216.21" x2="54.5" y2="216.21" stroke="#555" stroke-width="0.7" />
<line x1="52.5" y1="215" x2="54.5" y2="215" stroke="#555" stroke-width="0.7" />
<line x1="54.4" y1="347.5" x2="54.4" y2="349.2" stroke="#555" stroke-width="0.7" />
<line x1="67.95" y1="347.5" x2="67.95" y2="348.7" stroke="#555" stroke-width="0.7" />
<line x1="75.88" y1="347.5" x2="75.88" y2="348.7" stroke="#555" stroke-width="0.7" />
<line x1="81.5" y1="347.5" x2="81.5" y2="348.7" stroke="#555" stroke-width="0.7" />
<line x1="85.87" y1="347.5" x2="85.87" y2="348.7" stroke="#555" stroke-width="0.7" />
<line x1="89.43" y1="347.5" x2="89.43" y2="348.7" stroke="#555" stroke-width="0.7" />
<line x1="92.45" y1="347.5" x2="92.45" y2="348.7" stroke="#555" stroke-width="0.7" />
<line x1="95.06" y1="347.5" x2="95.06" y2="348.7" stroke="#555" stroke-width="0.7" />
<line x1="97.36" y1="347.5" x2="97.36" y2="348.7" stroke="#555" stroke-width="0.7" />
<line x1="99.42" y1="347.5" x2="99.42" y2="349.2" stroke="#555" stroke-width="0.7" />
<line x1="112.97" y1="347.5" x2="112.97" y2="348.7" stroke="#555" stroke-width="0.7" />
<line x1="120.9" y1="347.5" x2="120.9" y2="348.7" stroke="#555" stroke-width="0.7" />
<line x1="126.52" y1="347.5" x2="126.52" y2="348.7" stroke="#555" stroke-width="0.7" />
<line x1="130.89" y1="347.5" x2="130.89" y2="348.7" stroke="#555" stroke-width="0.7" />
<line x1="134.45" y1="347.5" x2="134.45" y2="348.7" stroke="#555" stroke-width="0.7" />
<line x1="137.47" y1="347.5" x2="137.47" y2="348.7" stroke="#555" stroke-width="0.7" />
<line x1="140.08" y1="347.5" x2="140.08" y2="348.7" stroke="#555" stroke-width="0.7" />
<line x1="142.38" y1="347.5" x2="142.38" y2="348.7" stroke="#555" stroke-width="0.7" />
<line x1="144.44" y1="347.5" x2="144.44" y2="349.2" stroke="#555" stroke-width="0.7" />
<line x1="157.99" y1="347.5" x2="157.99" y2="348.7" stroke="#555" stroke-width="0.7" />
<line x1="165.92" y1="347.5" x2="165.92" y2="348.7" stroke="#555" stroke-width="0.7" />
<line x1="171.54" y1="347.5" x2="171.54" y2="348.7" stroke="#555" stroke-width="0.7" />
<line x1="175.91" y1="347.5" x2="175.91" y2="348.7" stroke="#555" stroke-width="0.7" />
<line x1="179.47" y1="347.5" x2="179.47" y2="348.7" stroke="#555" stroke-width="0.7" />
<line x1="182.49" y1="347.5" x2="182.49" y2="348.7" stroke="#555" stroke-width="0.7" />
<line x1="185.1" y1="347.5" x2="185.1" y2="348.7" stroke="#555" stroke-width="0.7" />
<line x1="187.4" y1="347.5" x2="187.4" y2="348.7" stroke="#555" stroke-width="0.7" />
<line x1="189.46" y1="347.5" x2="189.46" y2="349.2" stroke="#555" stroke-width="0.7" />
<line x1="203.01" y1="347.5" x2="203.01" y2="348.7" stroke="#555" stroke-width="0.7" />
<line x1="210.94" y1="347.5" x2="210.94" y2="348.7" stroke="#555" stroke-width="0.7" />
<line x1="216.56" y1="347.5" x2="216.56" y2="348.7" stroke="#555" stroke-width="0.7" />
<line x1="220.93" y1="347.5" x2="220.93" y2="348.7" stroke="#555" stroke-width="0.7" />
<line x1="224.49" y1="347.5" x2="224.49" y2="348.7" stroke="#555" stroke-width="0.7" />
<line x1="227.51" y1="347.5" x2="227.51" y2="348.7" stroke="#555" stroke-width="0.7" />
<line x1="230.12" y1="347.5" x2="230.12" y2="348.7" stroke="#555" stroke-width="0.7" />
<line x1="232.42" y1="347.5" x2="232.42" y2="348.7" stroke="#555" stroke-width="0.7" />
<line x1="234.48" y1="347.5" x2="234.48" y2="349.2" stroke="#555" stroke-width="0.7" />
<line x1="248.03" y1="347.5" x2="248.03" y2="348.7" stroke="#555" stroke-width="0.7" />
<line x1="255.96" y1="347.5" x2="255.96" y2="348.7" stroke="#555" stroke-width="0.7" />
<line x1="261.58" y1="347.5" x2="261.58" y2="348.7" stroke="#555" stroke-width="0.7" />
<line x1="265.95" y1="347.5" x2="265.95" y2="348.7" stroke="#555" stroke-width="0.7" />
<line x1="269.51" y1="347.5" x2="269.51" y2="348.7" stroke="#555" stroke-width="0.7" />
<line x1="272.53" y1="347.5" x2="272.53" y2="348.7" stroke="#555" stroke-width="0.7" />
<line x1="275.14" y1="347.5" x2="275.14" y2="348.7" stroke="#555" stroke-width="0.7" />
<line x1="277.44" y1="347.5" x2="277.44" y2="348.7" stroke="#555" stroke-width="0.7" />
<line x1="279.5" y1="347.5" x2="279.5" y2="349.2" stroke="#555" stroke-width="0.7" />
<text x="47.6" y="351.6" font-size="10.7" text-anchor="end" font-family='"Liberation Sans", sans-serif' fill="#111">10<tspan font-size="7.1" dx="0.5" dy="-5.6">−10</tspan></text>
<text x="47.6" y="325.1" font-size="10.7" text-anchor="end" font-family='"Liberation Sans", sans-serif' fill="#111">10<tspan font-size="7.1" dx="0.5" dy="-5.6">−9</tspan></text>
<text x="47.6" y="298.6" font-size="10.7" text-anchor="end" font-family='"Liberation Sans", sans-serif' fill="#111">10<tspan font-size="7.1" dx="0.5" dy="-5.6">−8</tspan></text>
<text x="47.6" y="272.1" font-size="10.7" text-anchor="end" font-family='"Liberation Sans", sans-serif' fill="#111">10<tspan font-size="7.1" dx="0.5" dy="-5.6">−7</tspan></text>
<text x="47.6" y="245.6" font-size="10.7" text-anchor="end" font-family='"Liberation Sans", sans-serif' fill="#111">10<tspan font-size="7.1" dx="0.5" dy="-5.6">−6</tspan></text>
<text x="47.6" y="219.1" font-size="10.7" text-anchor="end" font-family='"Liberation Sans", sans-serif' fill="#111">10<tspan font-size="7.1" dx="0.5" dy="-5.6">−5</tspan></text>
<text x="55.4" y="363.8" font-size="10.6" text-anchor="middle" font-family='"Liberation Sans", sans-serif' fill="#111">10<tspan font-size="7.1" dx="0.2" dy="-5.6">−4</tspan></text>
<text x="100.42" y="363.8" font-size="10.6" text-anchor="middle" font-family='"Liberation Sans", sans-serif' fill="#111">10<tspan font-size="7.1" dx="0.2" dy="-5.6">−3</tspan></text>
<text x="145.44" y="363.8" font-size="10.6" text-anchor="middle" font-family='"Liberation Sans", sans-serif' fill="#111">10<tspan font-size="7.1" dx="0.2" dy="-5.6">−2</tspan></text>
<text x="190.46" y="363.8" font-size="10.6" text-anchor="middle" font-family='"Liberation Sans", sans-serif' fill="#111">10<tspan font-size="7.1" dx="0.2" dy="-5.6">−1</tspan></text>
<text x="235.48" y="363.8" font-size="10.6" text-anchor="middle" font-family='"Liberation Sans", sans-serif' fill="#111">10<tspan font-size="7.1" dx="0.2" dy="-5.6">0</tspan></text>
<text x="280.5" y="363.8" font-size="10.6" text-anchor="middle" font-family='"Liberation Sans", sans-serif' fill="#111">10<tspan font-size="7.1" dx="0.2" dy="-5.6">1</tspan></text>
<text x="162" y="382.2" font-size="11.4" fill="#111"><tspan font-family='"Liberation Serif", serif' font-style="italic">τ</tspan><tspan font-family='"Liberation Sans", sans-serif' dx="0.9"> (s)</tspan></text>
<text transform="translate(8.6,287) rotate(-90)" font-size="12" fill="#111" font-family='"Liberation Serif", serif' font-style="italic">σ<tspan font-size="8" dy="3">y</tspan><tspan dy="-3" font-style="normal">(</tspan>τ<tspan font-style="normal">)</tspan></text>
<line x1="283.2" y1="225.3" x2="291.6" y2="225.3" stroke="#444" stroke-width="1" stroke-dasharray="2,1.3"/>
<line x1="283.2" y1="240.9" x2="291.6" y2="240.9" stroke="#d06060" stroke-width="1" stroke-dasharray="2,1.3"/>
<line x1="283.2" y1="256.7" x2="291.6" y2="256.7" stroke="#4040d0" stroke-width="1" stroke-dasharray="2,1.3"/>
<line x1="283.2" y1="271.5" x2="291.6" y2="271.5" stroke="#b04444" stroke-width="1" />
<line x1="283.2" y1="288.5" x2="291.6" y2="288.5" stroke="#6a7ae0" stroke-width="1" />
<line x1="283.2" y1="304.5" x2="291.6" y2="304.5" stroke="#a05ad0" stroke-width="1" />
<line x1="283.2" y1="320.9" x2="291.6" y2="320.9" stroke="#5a5a5a" stroke-width="1" />
<line x1="283.2" y1="337.5" x2="291.6" y2="337.5" stroke="#2a762a" stroke-width="1" />
<text x="295.8" y="227.7" font-size="12.5" fill="#111"><tspan font-family='"Liberation Serif", serif' font-style="italic">τ</tspan><tspan font-family='"Liberation Sans", sans-serif' font-size="8" dx="0.4" dy="4" >PLL</tspan></text>
<text x="295.8" y="243.29999999999998" font-size="12.5" fill="#111"><tspan font-family='"Liberation Serif", serif' font-style="italic">τ</tspan><tspan font-family='"Liberation Sans", sans-serif' font-size="8" dx="0.4" dy="4" font-style="italic">th</tspan></text>
<text x="295.8" y="259.09999999999997" font-size="12.5" fill="#111"><tspan font-family='"Liberation Serif", serif' font-style="italic">τ</tspan><tspan font-family='"Liberation Sans", sans-serif' font-size="8" dx="0.4" dy="4" >mech</tspan></text>
<text x="298" y="276" font-size="11" fill="#111" font-family='"Liberation Sans", sans-serif'><tspan font-style="italic">S</tspan><tspan font-size="7" dy="3.5" font-style="italic">y</tspan><tspan font-size="4.5" dy="2">th</tspan><tspan dy="-2"> </tspan><tspan dy="-1.5" font-family='"Liberation Serif", serif'> (<tspan font-style="italic">ω</tspan>)</tspan></text>
<text x="298" y="293" font-size="11" fill="#111" font-family='"Liberation Sans", sans-serif'><tspan font-style="italic">S</tspan><tspan font-size="7" dy="3.5" font-style="italic">y</tspan><tspan font-size="4.5" dy="2">x</tspan><tspan dy="-2"> </tspan><tspan dy="-1.5" font-family='"Liberation Serif", serif'> (<tspan font-style="italic">ω</tspan>)</tspan></text>
<text x="298" y="308.9" font-size="11" fill="#111" font-family='"Liberation Sans", sans-serif'><tspan font-style="italic">S</tspan><tspan font-size="7" dy="3.5" font-style="italic">y</tspan><tspan font-size="4.5" dy="2">φ</tspan><tspan dy="-2"> </tspan><tspan dy="-1.5" font-family='"Liberation Serif", serif'> (<tspan font-style="italic">ω</tspan>)</tspan></text>
<text x="298" y="325.6" font-size="11" fill="#111" font-family='"Liberation Sans", sans-serif'><tspan font-style="italic">S</tspan><tspan font-size="7" dy="3.5" font-style="italic">y</tspan><tspan dy="-3.5" font-family='"Liberation Serif", serif'>(<tspan font-style="italic">ω</tspan>)</tspan></text>
<text x="297" y="341.8" font-size="10.6" text-anchor="start" font-family='"Liberation Sans", sans-serif' fill="#111" >Data</text>
<line x1="397" y1="210.5" x2="677" y2="210.5" stroke="#555" stroke-width="1" />
<line x1="676.5" y1="210.5" x2="676.5" y2="347.5" stroke="#555" stroke-width="1" />
<line x1="397.5" y1="210.5" x2="397.5" y2="348" stroke="#444" stroke-width="1" />
<line x1="397" y1="347.5" x2="677" y2="347.5" stroke="#444" stroke-width="1" />
<line x1="395.4" y1="347.6" x2="397.5" y2="347.6" stroke="#555" stroke-width="0.7" />
<line x1="396.2" y1="333.8" x2="397.5" y2="333.8" stroke="#555" stroke-width="0.7" />
<line x1="396.2" y1="325.73" x2="397.5" y2="325.73" stroke="#555" stroke-width="0.7" />
<line x1="396.2" y1="320.01" x2="397.5" y2="320.01" stroke="#555" stroke-width="0.7" />
<line x1="396.2" y1="315.56" x2="397.5" y2="315.56" stroke="#555" stroke-width="0.7" />
<line x1="396.2" y1="311.93" x2="397.5" y2="311.93" stroke="#555" stroke-width="0.7" />
<line x1="396.2" y1="308.87" x2="397.5" y2="308.87" stroke="#555" stroke-width="0.7" />
<line x1="396.2" y1="306.21" x2="397.5" y2="306.21" stroke="#555" stroke-width="0.7" />
<line x1="396.2" y1="303.86" x2="397.5" y2="303.86" stroke="#555" stroke-width="0.7" />
<line x1="395.4" y1="301.77" x2="397.5" y2="301.77" stroke="#555" stroke-width="0.7" />
<line x1="396.2" y1="287.97" x2="397.5" y2="287.97" stroke="#555" stroke-width="0.7" />
<line x1="396.2" y1="279.9" x2="397.5" y2="279.9" stroke="#555" stroke-width="0.7" />
<line x1="396.2" y1="274.17" x2="397.5" y2="274.17" stroke="#555" stroke-width="0.7" />
<line x1="396.2" y1="269.73" x2="397.5" y2="269.73" stroke="#555" stroke-width="0.7" />
<line x1="396.2" y1="266.1" x2="397.5" y2="266.1" stroke="#555" stroke-width="0.7" />
<line x1="396.2" y1="263.03" x2="397.5" y2="263.03" stroke="#555" stroke-width="0.7" />
<line x1="396.2" y1="260.38" x2="397.5" y2="260.38" stroke="#555" stroke-width="0.7" />
<line x1="396.2" y1="258.03" x2="397.5" y2="258.03" stroke="#555" stroke-width="0.7" />
<line x1="395.4" y1="255.93" x2="397.5" y2="255.93" stroke="#555" stroke-width="0.7" />
<line x1="396.2" y1="242.14" x2="397.5" y2="242.14" stroke="#555" stroke-width="0.7" />
<line x1="396.2" y1="234.07" x2="397.5" y2="234.07" stroke="#555" stroke-width="0.7" />
<line x1="396.2" y1="228.34" x2="397.5" y2="228.34" stroke="#555" stroke-width="0.7" />
<line x1="396.2" y1="223.9" x2="397.5" y2="223.9" stroke="#555" stroke-width="0.7" />
<line x1="396.2" y1="220.27" x2="397.5" y2="220.27" stroke="#555" stroke-width="0.7" />
<line x1="396.2" y1="217.2" x2="397.5" y2="217.2" stroke="#555" stroke-width="0.7" />
<line x1="396.2" y1="214.54" x2="397.5" y2="214.54" stroke="#555" stroke-width="0.7" />
<line x1="396.2" y1="212.2" x2="397.5" y2="212.2" stroke="#555" stroke-width="0.7" />
<line x1="395.4" y1="210.1" x2="397.5" y2="210.1" stroke="#555" stroke-width="0.7" />
<line x1="396.8" y1="347.5" x2="396.8" y2="349.3" stroke="#555" stroke-width="0.7" />
<line x1="417.85" y1="347.5" x2="417.85" y2="348.8" stroke="#555" stroke-width="0.7" />
<line x1="430.16" y1="347.5" x2="430.16" y2="348.8" stroke="#555" stroke-width="0.7" />
<line x1="438.9" y1="347.5" x2="438.9" y2="348.8" stroke="#555" stroke-width="0.7" />
<line x1="445.68" y1="347.5" x2="445.68" y2="348.8" stroke="#555" stroke-width="0.7" />
<line x1="451.21" y1="347.5" x2="451.21" y2="348.8" stroke="#555" stroke-width="0.7" />
<line x1="455.89" y1="347.5" x2="455.89" y2="348.8" stroke="#555" stroke-width="0.7" />
<line x1="459.95" y1="347.5" x2="459.95" y2="348.8" stroke="#555" stroke-width="0.7" />
<line x1="463.53" y1="347.5" x2="463.53" y2="348.8" stroke="#555" stroke-width="0.7" />
<line x1="466.73" y1="347.5" x2="466.73" y2="349.3" stroke="#555" stroke-width="0.7" />
<line x1="487.77" y1="347.5" x2="487.77" y2="348.8" stroke="#555" stroke-width="0.7" />
<line x1="500.09" y1="347.5" x2="500.09" y2="348.8" stroke="#555" stroke-width="0.7" />
<line x1="508.82" y1="347.5" x2="508.82" y2="348.8" stroke="#555" stroke-width="0.7" />
<line x1="515.6" y1="347.5" x2="515.6" y2="348.8" stroke="#555" stroke-width="0.7" />
<line x1="521.14" y1="347.5" x2="521.14" y2="348.8" stroke="#555" stroke-width="0.7" />
<line x1="525.82" y1="347.5" x2="525.82" y2="348.8" stroke="#555" stroke-width="0.7" />
<line x1="529.87" y1="347.5" x2="529.87" y2="348.8" stroke="#555" stroke-width="0.7" />
<line x1="533.45" y1="347.5" x2="533.45" y2="348.8" stroke="#555" stroke-width="0.7" />
<line x1="536.65" y1="347.5" x2="536.65" y2="349.3" stroke="#555" stroke-width="0.7" />
<line x1="557.7" y1="347.5" x2="557.7" y2="348.8" stroke="#555" stroke-width="0.7" />
<line x1="570.01" y1="347.5" x2="570.01" y2="348.8" stroke="#555" stroke-width="0.7" />
<line x1="578.75" y1="347.5" x2="578.75" y2="348.8" stroke="#555" stroke-width="0.7" />
<line x1="585.53" y1="347.5" x2="585.53" y2="348.8" stroke="#555" stroke-width="0.7" />
<line x1="591.06" y1="347.5" x2="591.06" y2="348.8" stroke="#555" stroke-width="0.7" />
<line x1="595.74" y1="347.5" x2="595.74" y2="348.8" stroke="#555" stroke-width="0.7" />
<line x1="599.8" y1="347.5" x2="599.8" y2="348.8" stroke="#555" stroke-width="0.7" />
<line x1="603.38" y1="347.5" x2="603.38" y2="348.8" stroke="#555" stroke-width="0.7" />
<line x1="606.58" y1="347.5" x2="606.58" y2="349.3" stroke="#555" stroke-width="0.7" />
<line x1="627.62" y1="347.5" x2="627.62" y2="348.8" stroke="#555" stroke-width="0.7" />
<line x1="639.94" y1="347.5" x2="639.94" y2="348.8" stroke="#555" stroke-width="0.7" />
<line x1="648.67" y1="347.5" x2="648.67" y2="348.8" stroke="#555" stroke-width="0.7" />
<line x1="655.45" y1="347.5" x2="655.45" y2="348.8" stroke="#555" stroke-width="0.7" />
<line x1="660.99" y1="347.5" x2="660.99" y2="348.8" stroke="#555" stroke-width="0.7" />
<line x1="665.67" y1="347.5" x2="665.67" y2="348.8" stroke="#555" stroke-width="0.7" />
<line x1="669.72" y1="347.5" x2="669.72" y2="348.8" stroke="#555" stroke-width="0.7" />
<line x1="673.3" y1="347.5" x2="673.3" y2="348.8" stroke="#555" stroke-width="0.7" />
<line x1="676.5" y1="347.5" x2="676.5" y2="349.3" stroke="#555" stroke-width="0.7" />
<text x="392.3" y="351.5" font-size="10.7" text-anchor="end" font-family='"Liberation Sans", sans-serif' fill="#111">10<tspan font-size="7.1" dx="0.5" dy="-5.6">−2</tspan></text>
<text x="392.3" y="305.67" font-size="10.7" text-anchor="end" font-family='"Liberation Sans", sans-serif' fill="#111">10<tspan font-size="7.1" dx="0.5" dy="-5.6">−1</tspan></text>
<text x="392.3" y="259.83" font-size="10.7" text-anchor="end" font-family='"Liberation Sans", sans-serif' fill="#111">10<tspan font-size="7.1" dx="0.5" dy="-5.6">0</tspan></text>
<text x="392.3" y="214" font-size="10.7" text-anchor="end" font-family='"Liberation Sans", sans-serif' fill="#111">10<tspan font-size="7.1" dx="0.5" dy="-5.6">1</tspan></text>
<text x="398.1" y="364.7" font-size="10.6" text-anchor="middle" font-family='"Liberation Sans", sans-serif' fill="#111">10<tspan font-size="7.1" dx="0.5" dy="-5.1">1</tspan></text>
<text x="468.03" y="364.7" font-size="10.6" text-anchor="middle" font-family='"Liberation Sans", sans-serif' fill="#111">10<tspan font-size="7.1" dx="0.5" dy="-5.1">2</tspan></text>
<text x="537.95" y="364.7" font-size="10.6" text-anchor="middle" font-family='"Liberation Sans", sans-serif' fill="#111">10<tspan font-size="7.1" dx="0.5" dy="-5.1">3</tspan></text>
<text x="607.88" y="364.7" font-size="10.6" text-anchor="middle" font-family='"Liberation Sans", sans-serif' fill="#111">10<tspan font-size="7.1" dx="0.5" dy="-5.1">4</tspan></text>
<text x="677.8" y="364.7" font-size="10.6" text-anchor="middle" font-family='"Liberation Sans", sans-serif' fill="#111">10<tspan font-size="7.1" dx="0.5" dy="-5.1">5</tspan></text>
<clipPath id="cf"><rect x="396.8" y="210.1" width="279.7" height="137.5"/></clipPath>
<g clip-path="url(#cf)">
<polyline points="396.8,243.9 397.5,244.13 398.2,244.36 398.9,244.6 399.6,244.83 400.3,245.06 401,245.29 401.69,245.52 402.39,245.75 403.09,245.98 403.79,246.21 404.49,246.44 405.19,246.67 405.89,246.9 406.59,247.13 407.29,247.36 407.99,247.59 408.69,247.83 409.39,248.06 410.09,248.29 410.79,248.52 411.48,248.75 412.18,248.98 412.88,249.21 413.58,249.44 414.28,249.67 414.98,249.9 415.68,250.13 416.38,250.36 417.08,250.59 417.78,250.82 418.48,251.06 419.18,251.29 419.88,251.52 420.57,251.75 421.27,251.98 421.97,252.21 422.67,252.44 423.37,252.67 424.07,252.9 424.77,253.13 425.47,253.36 426.17,253.59 426.87,253.82 427.57,254.05 428.27,254.28 428.97,254.52 429.66,254.75 430.36,254.98 431.06,255.21 431.76,255.44 432.46,255.67 433.16,255.9 433.86,256.13 434.56,256.36 435.26,256.59 435.96,256.82 436.66,257.05 437.36,257.28 438.06,257.51 438.75,257.74 439.45,257.97 440.15,258.2 440.85,258.43 441.55,258.66 442.25,258.9 442.95,259.13 443.65,259.36 444.35,259.59 445.05,259.82 445.75,260.05 446.45,260.28 447.15,260.51 447.85,260.74 448.54,260.97 449.24,261.2 449.94,261.43 450.64,261.66 451.34,261.89 452.04,262.12 452.74,262.35 453.44,262.58 454.14,262.81 454.84,263.04 455.54,263.27 456.24,263.5 456.94,263.73 457.63,263.96 458.33,264.19 459.03,264.42 459.73,264.65 460.43,264.88 461.13,265.1 461.83,265.33 462.53,265.56 463.23,265.79 463.93,266.02 464.63,266.25 465.33,266.48 466.03,266.71 466.73,266.94 467.42,267.17 468.12,267.4 468.82,267.62 469.52,267.85 470.22,268.08 470.92,268.31 471.62,268.54 472.32,268.76 473.02,268.99 473.72,269.22 474.42,269.45 475.12,269.68 475.82,269.9 476.51,270.13 477.21,270.36 477.91,270.58 478.61,270.81 479.31,271.04 480.01,271.26 480.71,271.49 481.41,271.71 482.11,271.94 482.81,272.16 483.51,272.39 484.21,272.61 484.91,272.84 485.6,273.06 486.3,273.29 487,273.51 487.7,273.73 488.4,273.95 489.1,274.18 489.8,274.4 490.5,274.62 491.2,274.84 491.9,275.06 492.6,275.28 493.3,275.5 494,275.72 494.69,275.94 495.39,276.16 496.09,276.37 496.79,276.59 497.49,276.81 498.19,277.02 498.89,277.24 499.59,277.45 500.29,277.66 500.99,277.88 501.69,278.09 502.39,278.3 503.09,278.51 503.79,278.72 504.48,278.93 505.18,279.13 505.88,279.34 506.58,279.54 507.28,279.75 507.98,279.95 508.68,280.15 509.38,280.35 510.08,280.55 510.78,280.74 511.48,280.94 512.18,281.13 512.88,281.33 513.57,281.52 514.27,281.71 514.97,281.89 515.67,282.08 516.37,282.26 517.07,282.44 517.77,282.62 518.47,282.8 519.17,282.97 519.87,283.14 520.57,283.31 521.27,283.48 521.97,283.64 522.66,283.81 523.36,283.97 524.06,284.12 524.76,284.28 525.46,284.43 526.16,284.57 526.86,284.72 527.56,284.86 528.26,284.99 528.96,285.13 529.66,285.26 530.36,285.38 531.06,285.51 531.76,285.62 532.45,285.74 533.15,285.85 533.85,285.96 534.55,286.06 535.25,286.16 535.95,286.25 536.65,286.34 537.35,286.42 538.05,286.5 538.75,286.57 539.45,286.64 540.15,286.71 540.85,286.77 541.54,286.82 542.24,286.87 542.94,286.92 543.64,286.95 544.34,286.99 545.04,287.02 545.74,287.04 546.44,287.06 547.14,287.07 547.84,287.08 548.54,287.08 549.24,287.07 549.94,287.07 550.63,287.05 551.33,287.03 552.03,287.01 552.73,286.97 553.43,286.94 554.13,286.9 554.83,286.85 555.53,286.8 556.23,286.74 556.93,286.68 557.63,286.61 558.33,286.54 559.03,286.47 559.73,286.38 560.42,286.3 561.12,286.21 561.82,286.11 562.52,286.01 563.22,285.91 563.92,285.8 564.62,285.69 565.32,285.57 566.02,285.45 566.72,285.33 567.42,285.2 568.12,285.07 568.82,284.93 569.51,284.79 570.21,284.65 570.91,284.5 571.61,284.35 572.31,284.2 573.01,284.04 573.71,283.89 574.41,283.72 575.11,283.56 575.81,283.39 576.51,283.22 577.21,283.05 577.91,282.88 578.61,282.7 579.3,282.52 580,282.34 580.7,282.16 581.4,281.97 582.1,281.79 582.8,281.6 583.5,281.41 584.2,281.21 584.9,281.02 585.6,280.82 586.3,280.63 587,280.43 587.7,280.23 588.39,280.02 589.09,279.82 589.79,279.62 590.49,279.41 591.19,279.2 591.89,279 592.59,278.79 593.29,278.58 593.99,278.37 594.69,278.15 595.39,277.94 596.09,277.73 596.79,277.51 597.48,277.3 598.18,277.08 598.88,276.87 599.58,276.65 600.28,276.43 600.98,276.21 601.68,275.99 602.38,275.77 603.08,275.55 603.78,275.33 604.48,275.11 605.18,274.89 605.88,274.66 606.58,274.44 607.27,274.22 607.97,273.99 608.67,273.77 609.37,273.54 610.07,273.32 610.77,273.09 611.47,272.87 612.17,272.64 612.87,272.41 613.57,272.19 614.27,271.96 614.97,271.73 615.67,271.5 616.36,271.28 617.06,271.05 617.76,270.82 618.46,270.59 619.16,270.36 619.86,270.14 620.56,269.91 621.26,269.68 621.96,269.45 622.66,269.22 623.36,268.99 624.06,268.76 624.76,268.53 625.45,268.3 626.15,268.07 626.85,267.84 627.55,267.61 628.25,267.38 628.95,267.15 629.65,266.92 630.35,266.69 631.05,266.45 631.75,266.22 632.45,265.99 633.15,265.76 633.85,265.53 634.55,265.3 635.24,265.07 635.94,264.84 636.64,264.6 637.34,264.37 638.04,264.14 638.74,263.91 639.44,263.68 640.14,263.45 640.84,263.21 641.54,262.98 642.24,262.75 642.94,262.52 643.64,262.29 644.33,262.05 645.03,261.82 645.73,261.59 646.43,261.36 647.13,261.12 647.83,260.89 648.53,260.66 649.23,260.43 649.93,260.2 650.63,259.96 651.33,259.73 652.03,259.5 652.73,259.27 653.42,259.03 654.12,258.8 654.82,258.57 655.52,258.34 656.22,258.1 656.92,257.87 657.62,257.64 658.32,257.41 659.02,257.17 659.72,256.94 660.42,256.71 661.12,256.48 661.82,256.24 662.51,256.01 663.21,255.78 663.91,255.55 664.61,255.31 665.31,255.08 666.01,254.85 666.71,254.61 667.41,254.38 668.11,254.15 668.81,253.92 669.51,253.68 670.21,253.45 670.91,253.22 671.61,252.99 672.3,252.75 673,252.52 673.7,252.29 674.4,252.05 675.1,251.82 675.8,251.59 676.5,251.36" fill="none" stroke="#cc3030" stroke-width="1.1" stroke-linejoin="round" stroke-dasharray="2.2,1.4"/>
<polyline points="396.8,212.85 397.5,213.31 398.2,213.77 398.9,214.22 399.6,214.68 400.3,215.14 401,215.6 401.69,216.06 402.39,216.52 403.09,216.97 403.79,217.43 404.49,217.89 405.19,218.35 405.89,218.81 406.59,219.26 407.29,219.72 407.99,220.18 408.69,220.64 409.39,221.1 410.09,221.56 410.79,222.01 411.48,222.47 412.18,222.93 412.88,223.39 413.58,223.85 414.28,224.31 414.98,224.76 415.68,225.22 416.38,225.68 417.08,226.14 417.78,226.6 418.48,227.05 419.18,227.51 419.88,227.97 420.57,228.43 421.27,228.89 421.97,229.35 422.67,229.8 423.37,230.26 424.07,230.72 424.77,231.18 425.47,231.64 426.17,232.09 426.87,232.55 427.57,233.01 428.27,233.47 428.97,233.93 429.66,234.38 430.36,234.84 431.06,235.3 431.76,235.76 432.46,236.22 433.16,236.67 433.86,237.13 434.56,237.59 435.26,238.05 435.96,238.5 436.66,238.96 437.36,239.42 438.06,239.88 438.75,240.34 439.45,240.79 440.15,241.25 440.85,241.71 441.55,242.17 442.25,242.62 442.95,243.08 443.65,243.54 444.35,244 445.05,244.45 445.75,244.91 446.45,245.37 447.15,245.82 447.85,246.28 448.54,246.74 449.24,247.2 449.94,247.65 450.64,248.11 451.34,248.57 452.04,249.02 452.74,249.48 453.44,249.94 454.14,250.39 454.84,250.85 455.54,251.31 456.24,251.76 456.94,252.22 457.63,252.67 458.33,253.13 459.03,253.59 459.73,254.04 460.43,254.5 461.13,254.95 461.83,255.41 462.53,255.86 463.23,256.32 463.93,256.77 464.63,257.23 465.33,257.68 466.03,258.14 466.73,258.59 467.42,259.05 468.12,259.5 468.82,259.95 469.52,260.41 470.22,260.86 470.92,261.31 471.62,261.76 472.32,262.22 473.02,262.67 473.72,263.12 474.42,263.57 475.12,264.02 475.82,264.47 476.51,264.92 477.21,265.37 477.91,265.82 478.61,266.27 479.31,266.72 480.01,267.17 480.71,267.62 481.41,268.07 482.11,268.51 482.81,268.96 483.51,269.41 484.21,269.85 484.91,270.3 485.6,270.74 486.3,271.18 487,271.63 487.7,272.07 488.4,272.51 489.1,272.95 489.8,273.39 490.5,273.83 491.2,274.27 491.9,274.7 492.6,275.14 493.3,275.57 494,276.01 494.69,276.44 495.39,276.87 496.09,277.3 496.79,277.73 497.49,278.16 498.19,278.59 498.89,279.01 499.59,279.44 500.29,279.86 500.99,280.28 501.69,280.7 502.39,281.11 503.09,281.53 503.79,281.94 504.48,282.35 505.18,282.76 505.88,283.17 506.58,283.57 507.28,283.97 507.98,284.37 508.68,284.77 509.38,285.16 510.08,285.55 510.78,285.94 511.48,286.33 512.18,286.71 512.88,287.09 513.57,287.47 514.27,287.84 514.97,288.21 515.67,288.57 516.37,288.93 517.07,289.29 517.77,289.64 518.47,289.99 519.17,290.33 519.87,290.67 520.57,291 521.27,291.33 521.97,291.65 522.66,291.97 523.36,292.28 524.06,292.59 524.76,292.89 525.46,293.19 526.16,293.48 526.86,293.76 527.56,294.03 528.26,294.3 528.96,294.56 529.66,294.82 530.36,295.06 531.06,295.3 531.76,295.53 532.45,295.76 533.15,295.97 533.85,296.18 534.55,296.38 535.25,296.57 535.95,296.75 536.65,296.92 537.35,297.09 538.05,297.24 538.75,297.38 539.45,297.52 540.15,297.64 540.85,297.76 541.54,297.86 542.24,297.96 542.94,298.04 543.64,298.12 544.34,298.18 545.04,298.24 545.74,298.28 546.44,298.31 547.14,298.34 547.84,298.35 548.54,298.35 549.24,298.34 549.94,298.32 550.63,298.29 551.33,298.25 552.03,298.2 552.73,298.14 553.43,298.07 554.13,297.99 554.83,297.89 555.53,297.79 556.23,297.68 556.93,297.56 557.63,297.42 558.33,297.28 559.03,297.13 559.73,296.97 560.42,296.8 561.12,296.62 561.82,296.44 562.52,296.24 563.22,296.04 563.92,295.82 564.62,295.6 565.32,295.37 566.02,295.14 566.72,294.89 567.42,294.64 568.12,294.38 568.82,294.11 569.51,293.84 570.21,293.56 570.91,293.27 571.61,292.98 572.31,292.68 573.01,292.38 573.71,292.07 574.41,291.75 575.11,291.43 575.81,291.1 576.51,290.77 577.21,290.43 577.91,290.09 578.61,289.74 579.3,289.39 580,289.04 580.7,288.68 581.4,288.32 582.1,287.95 582.8,287.58 583.5,287.2 584.2,286.82 584.9,286.44 585.6,286.06 586.3,285.67 587,285.28 587.7,284.89 588.39,284.49 589.09,284.09 589.79,283.69 590.49,283.29 591.19,282.88 591.89,282.47 592.59,282.06 593.29,281.65 593.99,281.24 594.69,280.82 595.39,280.4 596.09,279.98 596.79,279.56 597.48,279.14 598.18,278.71 598.88,278.29 599.58,277.86 600.28,277.43 600.98,277 601.68,276.57 602.38,276.14 603.08,275.71 603.78,275.27 604.48,274.83 605.18,274.4 605.88,273.96 606.58,273.52 607.27,273.08 607.97,272.64 608.67,272.2 609.37,271.76 610.07,271.32 610.77,270.87 611.47,270.43 612.17,269.98 612.87,269.54 613.57,269.09 614.27,268.65 614.97,268.2 615.67,267.75 616.36,267.31 617.06,266.86 617.76,266.41 618.46,265.96 619.16,265.51 619.86,265.06 620.56,264.61 621.26,264.16 621.96,263.71 622.66,263.26 623.36,262.8 624.06,262.35 624.76,261.9 625.45,261.45 626.15,260.99 626.85,260.54 627.55,260.09 628.25,259.63 628.95,259.18 629.65,258.73 630.35,258.27 631.05,257.82 631.75,257.36 632.45,256.91 633.15,256.45 633.85,256 634.55,255.54 635.24,255.09 635.94,254.63 636.64,254.18 637.34,253.72 638.04,253.27 638.74,252.81 639.44,252.36 640.14,251.9 640.84,251.44 641.54,250.99 642.24,250.53 642.94,250.07 643.64,249.62 644.33,249.16 645.03,248.7 645.73,248.25 646.43,247.79 647.13,247.33 647.83,246.88 648.53,246.42 649.23,245.96 649.93,245.5 650.63,245.05 651.33,244.59 652.03,244.13 652.73,243.68 653.42,243.22 654.12,242.76 654.82,242.3 655.52,241.85 656.22,241.39 656.92,240.93 657.62,240.47 658.32,240.01 659.02,239.56 659.72,239.1 660.42,238.64 661.12,238.18 661.82,237.73 662.51,237.27 663.21,236.81 663.91,236.35 664.61,235.89 665.31,235.44 666.01,234.98 666.71,234.52 667.41,234.06 668.11,233.61 668.81,233.15 669.51,232.69 670.21,232.23 670.91,231.77 671.61,231.31 672.3,230.86 673,230.4 673.7,229.94 674.4,229.48 675.1,229.02 675.8,228.57 676.5,228.11" fill="none" stroke="#3434cc" stroke-width="1.1" stroke-linejoin="round" stroke-dasharray="2.2,1.4"/>
<polyline points="396.8,370.15 397.5,369.65 398.2,369.16 398.9,368.66 399.6,368.17 400.3,367.67 401,367.17 401.69,366.68 402.39,366.18 403.09,365.69 403.79,365.19 404.49,364.7 405.19,364.2 405.89,363.71 406.59,363.21 407.29,362.71 407.99,362.22 408.69,361.72 409.39,361.23 410.09,360.73 410.79,360.24 411.48,359.74 412.18,359.25 412.88,358.75 413.58,358.25 414.28,357.76 414.98,357.26 415.68,356.77 416.38,356.27 417.08,355.78 417.78,355.28 418.48,354.79 419.18,354.29 419.88,353.8 420.57,353.3 421.27,352.8 421.97,352.31 422.67,351.81 423.37,351.32 424.07,350.82 424.77,350.33 425.47,349.83 426.17,349.34 426.87,348.84 427.57,348.35 428.27,347.85 428.97,347.36 429.66,346.86 430.36,346.37 431.06,345.87 431.76,345.38 432.46,344.88 433.16,344.39 433.86,343.89 434.56,343.4 435.26,342.9 435.96,342.41 436.66,341.91 437.36,341.42 438.06,340.92 438.75,340.43 439.45,339.93 440.15,339.44 440.85,338.94 441.55,338.45 442.25,337.96 442.95,337.46 443.65,336.97 444.35,336.47 445.05,335.98 445.75,335.48 446.45,334.99 447.15,334.5 447.85,334 448.54,333.51 449.24,333.02 449.94,332.52 450.64,332.03 451.34,331.53 452.04,331.04 452.74,330.55 453.44,330.05 454.14,329.56 454.84,329.07 455.54,328.58 456.24,328.08 456.94,327.59 457.63,327.1 458.33,326.6 459.03,326.11 459.73,325.62 460.43,325.13 461.13,324.64 461.83,324.14 462.53,323.65 463.23,323.16 463.93,322.67 464.63,322.18 465.33,321.69 466.03,321.2 466.73,320.71 467.42,320.21 468.12,319.72 468.82,319.23 469.52,318.74 470.22,318.26 470.92,317.77 471.62,317.28 472.32,316.79 473.02,316.3 473.72,315.81 474.42,315.32 475.12,314.83 475.82,314.35 476.51,313.86 477.21,313.37 477.91,312.89 478.61,312.4 479.31,311.91 480.01,311.43 480.71,310.94 481.41,310.46 482.11,309.97 482.81,309.49 483.51,309.01 484.21,308.52 484.91,308.04 485.6,307.56 486.3,307.08 487,306.6 487.7,306.12 488.4,305.64 489.1,305.16 489.8,304.68 490.5,304.2 491.2,303.72 491.9,303.25 492.6,302.77 493.3,302.3 494,301.82 494.69,301.35 495.39,300.88 496.09,300.4 496.79,299.93 497.49,299.46 498.19,298.99 498.89,298.52 499.59,298.06 500.29,297.59 500.99,297.12 501.69,296.66 502.39,296.2 503.09,295.74 503.79,295.27 504.48,294.81 505.18,294.36 505.88,293.9 506.58,293.44 507.28,292.99 507.98,292.54 508.68,292.08 509.38,291.64 510.08,291.19 510.78,290.74 511.48,290.3 512.18,289.85 512.88,289.41 513.57,288.97 514.27,288.53 514.97,288.1 515.67,287.66 516.37,287.23 517.07,286.8 517.77,286.38 518.47,285.95 519.17,285.53 519.87,285.11 520.57,284.69 521.27,284.27 521.97,283.86 522.66,283.45 523.36,283.04 524.06,282.64 524.76,282.23 525.46,281.83 526.16,281.44 526.86,281.04 527.56,280.65 528.26,280.27 528.96,279.88 529.66,279.5 530.36,279.12 531.06,278.75 531.76,278.38 532.45,278.01 533.15,277.65 533.85,277.29 534.55,276.93 535.25,276.58 535.95,276.23 536.65,275.89 537.35,275.55 538.05,275.21 538.75,274.88 539.45,274.55 540.15,274.23 540.85,273.91 541.54,273.59 542.24,273.28 542.94,272.97 543.64,272.67 544.34,272.37 545.04,272.08 545.74,271.79 546.44,271.5 547.14,271.22 547.84,270.95 548.54,270.67 549.24,270.41 549.94,270.15 550.63,269.89 551.33,269.64 552.03,269.39 552.73,269.14 553.43,268.91 554.13,268.67 554.83,268.44 555.53,268.22 556.23,268 556.93,267.78 557.63,267.57 558.33,267.36 559.03,267.16 559.73,266.96 560.42,266.77 561.12,266.58 561.82,266.39 562.52,266.21 563.22,266.04 563.92,265.87 564.62,265.7 565.32,265.53 566.02,265.37 566.72,265.22 567.42,265.07 568.12,264.92 568.82,264.78 569.51,264.64 570.21,264.5 570.91,264.37 571.61,264.24 572.31,264.11 573.01,263.99 573.71,263.87 574.41,263.76 575.11,263.64 575.81,263.54 576.51,263.43 577.21,263.33 577.91,263.23 578.61,263.13 579.3,263.04 580,262.95 580.7,262.86 581.4,262.77 582.1,262.69 582.8,262.61 583.5,262.53 584.2,262.46 584.9,262.38 585.6,262.31 586.3,262.24 587,262.18 587.7,262.11 588.39,262.05 589.09,261.99 589.79,261.93 590.49,261.88 591.19,261.82 591.89,261.77 592.59,261.72 593.29,261.67 593.99,261.62 594.69,261.57 595.39,261.53 596.09,261.49 596.79,261.44 597.48,261.4 598.18,261.37 598.88,261.33 599.58,261.29 600.28,261.26 600.98,261.22 601.68,261.19 602.38,261.16 603.08,261.13 603.78,261.1 604.48,261.07 605.18,261.04 605.88,261.02 606.58,260.99 607.27,260.97 607.97,260.94 608.67,260.92 609.37,260.9 610.07,260.88 610.77,260.86 611.47,260.84 612.17,260.82 612.87,260.8 613.57,260.78 614.27,260.76 614.97,260.75 615.67,260.73 616.36,260.71 617.06,260.7 617.76,260.68 618.46,260.67 619.16,260.66 619.86,260.64 620.56,260.63 621.26,260.62 621.96,260.61 622.66,260.6 623.36,260.59 624.06,260.58 624.76,260.57 625.45,260.56 626.15,260.55 626.85,260.54 627.55,260.53 628.25,260.52 628.95,260.51 629.65,260.51 630.35,260.5 631.05,260.49 631.75,260.48 632.45,260.48 633.15,260.47 633.85,260.47 634.55,260.46 635.24,260.45 635.94,260.45 636.64,260.44 637.34,260.44 638.04,260.43 638.74,260.43 639.44,260.42 640.14,260.42 640.84,260.41 641.54,260.41 642.24,260.41 642.94,260.4 643.64,260.4 644.33,260.4 645.03,260.39 645.73,260.39 646.43,260.39 647.13,260.38 647.83,260.38 648.53,260.38 649.23,260.37 649.93,260.37 650.63,260.37 651.33,260.37 652.03,260.36 652.73,260.36 653.42,260.36 654.12,260.36 654.82,260.35 655.52,260.35 656.22,260.35 656.92,260.35 657.62,260.35 658.32,260.35 659.02,260.34 659.72,260.34 660.42,260.34 661.12,260.34 661.82,260.34 662.51,260.34 663.21,260.34 663.91,260.33 664.61,260.33 665.31,260.33 666.01,260.33 666.71,260.33 667.41,260.33 668.11,260.33 668.81,260.33 669.51,260.33 670.21,260.32 670.91,260.32 671.61,260.32 672.3,260.32 673,260.32 673.7,260.32 674.4,260.32 675.1,260.32 675.8,260.32 676.5,260.32" fill="none" stroke="#9436cc" stroke-width="1.1" stroke-linejoin="round" stroke-dasharray="2.2,1.4"/>
<polyline points="396.8,212.42 397.5,212.87 398.2,213.32 398.9,213.76 399.6,214.21 400.3,214.66 401,215.11 401.69,215.55 402.39,216 403.09,216.45 403.79,216.89 404.49,217.34 405.19,217.79 405.89,218.23 406.59,218.68 407.29,219.12 407.99,219.57 408.69,220.01 409.39,220.46 410.09,220.9 410.79,221.34 411.48,221.79 412.18,222.23 412.88,222.67 413.58,223.11 414.28,223.56 414.98,224 415.68,224.44 416.38,224.88 417.08,225.32 417.78,225.76 418.48,226.2 419.18,226.64 419.88,227.08 420.57,227.52 421.27,227.95 421.97,228.39 422.67,228.83 423.37,229.27 424.07,229.7 424.77,230.14 425.47,230.57 426.17,231.01 426.87,231.44 427.57,231.88 428.27,232.31 428.97,232.74 429.66,233.17 430.36,233.61 431.06,234.04 431.76,234.47 432.46,234.9 433.16,235.33 433.86,235.76 434.56,236.18 435.26,236.61 435.96,237.04 436.66,237.46 437.36,237.89 438.06,238.31 438.75,238.74 439.45,239.16 440.15,239.59 440.85,240.01 441.55,240.43 442.25,240.85 442.95,241.27 443.65,241.69 444.35,242.11 445.05,242.53 445.75,242.94 446.45,243.36 447.15,243.77 447.85,244.19 448.54,244.6 449.24,245.01 449.94,245.43 450.64,245.84 451.34,246.25 452.04,246.66 452.74,247.06 453.44,247.47 454.14,247.88 454.84,248.28 455.54,248.69 456.24,249.09 456.94,249.49 457.63,249.89 458.33,250.29 459.03,250.69 459.73,251.09 460.43,251.49 461.13,251.88 461.83,252.28 462.53,252.67 463.23,253.06 463.93,253.45 464.63,253.84 465.33,254.23 466.03,254.62 466.73,255 467.42,255.39 468.12,255.77 468.82,256.15 469.52,256.53 470.22,256.91 470.92,257.29 471.62,257.66 472.32,258.04 473.02,258.41 473.72,258.78 474.42,259.15 475.12,259.52 475.82,259.88 476.51,260.25 477.21,260.61 477.91,260.97 478.61,261.33 479.31,261.68 480.01,262.04 480.71,262.39 481.41,262.74 482.11,263.09 482.81,263.44 483.51,263.78 484.21,264.12 484.91,264.46 485.6,264.8 486.3,265.13 487,265.46 487.7,265.79 488.4,266.12 489.1,266.44 489.8,266.76 490.5,267.08 491.2,267.39 491.9,267.7 492.6,268 493.3,268.31 494,268.61 494.69,268.9 495.39,269.19 496.09,269.47 496.79,269.76 497.49,270.03 498.19,270.3 498.89,270.57 499.59,270.83 500.29,271.08 500.99,271.33 501.69,271.57 502.39,271.81 503.09,272.04 503.79,272.26 504.48,272.48 505.18,272.69 505.88,272.89 506.58,273.08 507.28,273.26 507.98,273.44 508.68,273.61 509.38,273.76 510.08,273.91 510.78,274.05 511.48,274.18 512.18,274.3 512.88,274.41 513.57,274.5 514.27,274.59 514.97,274.67 515.67,274.73 516.37,274.79 517.07,274.83 517.77,274.87 518.47,274.89 519.17,274.9 519.87,274.9 520.57,274.88 521.27,274.86 521.97,274.83 522.66,274.78 523.36,274.72 524.06,274.66 524.76,274.58 525.46,274.5 526.16,274.4 526.86,274.3 527.56,274.18 528.26,274.06 528.96,273.93 529.66,273.79 530.36,273.64 531.06,273.49 531.76,273.33 532.45,273.16 533.15,272.99 533.85,272.81 534.55,272.63 535.25,272.44 535.95,272.25 536.65,272.05 537.35,271.85 538.05,271.64 538.75,271.44 539.45,271.23 540.15,271.02 540.85,270.8 541.54,270.59 542.24,270.37 542.94,270.16 543.64,269.94 544.34,269.72 545.04,269.5 545.74,269.28 546.44,269.07 547.14,268.85 547.84,268.63 548.54,268.42 549.24,268.2 549.94,267.99 550.63,267.78 551.33,267.57 552.03,267.36 552.73,267.16 553.43,266.95 554.13,266.75 554.83,266.55 555.53,266.35 556.23,266.16 556.93,265.97 557.63,265.78 558.33,265.59 559.03,265.4 559.73,265.22 560.42,265.04 561.12,264.86 561.82,264.69 562.52,264.52 563.22,264.35 563.92,264.18 564.62,264.02 565.32,263.86 566.02,263.7 566.72,263.54 567.42,263.39 568.12,263.24 568.82,263.09 569.51,262.95 570.21,262.8 570.91,262.66 571.61,262.52 572.31,262.39 573.01,262.25 573.71,262.12 574.41,261.99 575.11,261.86 575.81,261.73 576.51,261.61 577.21,261.48 577.91,261.36 578.61,261.24 579.3,261.12 580,261.01 580.7,260.89 581.4,260.78 582.1,260.66 582.8,260.55 583.5,260.44 584.2,260.33 584.9,260.22 585.6,260.11 586.3,260 587,259.89 587.7,259.79 588.39,259.68 589.09,259.57 589.79,259.46 590.49,259.36 591.19,259.25 591.89,259.14 592.59,259.03 593.29,258.93 593.99,258.82 594.69,258.71 595.39,258.6 596.09,258.49 596.79,258.38 597.48,258.27 598.18,258.15 598.88,258.04 599.58,257.92 600.28,257.8 600.98,257.69 601.68,257.57 602.38,257.44 603.08,257.32 603.78,257.2 604.48,257.07 605.18,256.94 605.88,256.81 606.58,256.68 607.27,256.54 607.97,256.4 608.67,256.26 609.37,256.12 610.07,255.97 610.77,255.82 611.47,255.67 612.17,255.52 612.87,255.36 613.57,255.2 614.27,255.04 614.97,254.87 615.67,254.7 616.36,254.53 617.06,254.35 617.76,254.17 618.46,253.99 619.16,253.8 619.86,253.61 620.56,253.42 621.26,253.22 621.96,253.02 622.66,252.81 623.36,252.6 624.06,252.39 624.76,252.17 625.45,251.95 626.15,251.73 626.85,251.5 627.55,251.27 628.25,251.03 628.95,250.79 629.65,250.54 630.35,250.3 631.05,250.04 631.75,249.79 632.45,249.52 633.15,249.26 633.85,248.99 634.55,248.72 635.24,248.44 635.94,248.16 636.64,247.88 637.34,247.59 638.04,247.3 638.74,247 639.44,246.7 640.14,246.4 640.84,246.09 641.54,245.78 642.24,245.46 642.94,245.15 643.64,244.82 644.33,244.5 645.03,244.17 645.73,243.84 646.43,243.51 647.13,243.17 647.83,242.83 648.53,242.48 649.23,242.14 649.93,241.79 650.63,241.43 651.33,241.08 652.03,240.72 652.73,240.36 653.42,239.99 654.12,239.63 654.82,239.26 655.52,238.88 656.22,238.51 656.92,238.13 657.62,237.76 658.32,237.37 659.02,236.99 659.72,236.61 660.42,236.22 661.12,235.83 661.82,235.44 662.51,235.04 663.21,234.65 663.91,234.25 664.61,233.85 665.31,233.45 666.01,233.05 666.71,232.64 667.41,232.24 668.11,231.83 668.81,231.42 669.51,231.01 670.21,230.6 670.91,230.19 671.61,229.77 672.3,229.36 673,228.94 673.7,228.52 674.4,228.1 675.1,227.68 675.8,227.26 676.5,226.84" fill="none" stroke="#111" stroke-width="1" stroke-linejoin="round" />
</g>
<circle cx="467.6" cy="238.1" r="3.4" fill="none" stroke="#8b2323" stroke-width="1.1"/>
<circle cx="467.6" cy="243" r="3.4" fill="none" stroke="#8b2323" stroke-width="1.1"/>
<circle cx="467.6" cy="253.5" r="3.4" fill="none" stroke="#8b2323" stroke-width="1.1"/>
<circle cx="516" cy="264.9" r="3.4" fill="none" stroke="#8b2323" stroke-width="1.1"/>
<circle cx="516" cy="265.9" r="3.4" fill="none" stroke="#8b2323" stroke-width="1.1"/>
<circle cx="516" cy="272.7" r="3.4" fill="none" stroke="#8b2323" stroke-width="1.1"/>
<circle cx="536.7" cy="264.9" r="3.4" fill="none" stroke="#8b2323" stroke-width="1.1"/>
<circle cx="536.7" cy="271.5" r="3.4" fill="none" stroke="#8b2323" stroke-width="1.1"/>
<circle cx="536.7" cy="281" r="3.4" fill="none" stroke="#8b2323" stroke-width="1.1"/>
<circle cx="558" cy="264.4" r="3.4" fill="none" stroke="#8b2323" stroke-width="1.1"/>
<circle cx="558" cy="266.5" r="3.4" fill="none" stroke="#8b2323" stroke-width="1.1"/>
<line x1="467.6" y1="240.8" x2="467.6" y2="249" stroke="#8b2323" stroke-width="0.9" />
<line x1="465.6" y1="240.8" x2="469.6" y2="240.8" stroke="#8b2323" stroke-width="0.8" />
<line x1="465.6" y1="249" x2="469.6" y2="249" stroke="#8b2323" stroke-width="0.8" />
<line x1="516" y1="262" x2="516" y2="268" stroke="#8b2323" stroke-width="0.9" />
<line x1="514" y1="262" x2="518" y2="262" stroke="#8b2323" stroke-width="0.8" />
<line x1="514" y1="268" x2="518" y2="268" stroke="#8b2323" stroke-width="0.8" />
<line x1="536.7" y1="268.5" x2="536.7" y2="274.5" stroke="#8b2323" stroke-width="0.9" />
<line x1="534.7" y1="268.5" x2="538.7" y2="268.5" stroke="#8b2323" stroke-width="0.8" />
<line x1="534.7" y1="274.5" x2="538.7" y2="274.5" stroke="#8b2323" stroke-width="0.8" />
<line x1="558" y1="262.5" x2="558" y2="268" stroke="#8b2323" stroke-width="0.9" />
<line x1="556" y1="262.5" x2="560" y2="262.5" stroke="#8b2323" stroke-width="0.8" />
<line x1="556" y1="268" x2="560" y2="268" stroke="#8b2323" stroke-width="0.8" />
<line x1="627.8" y1="297.8" x2="634.2" y2="297.8" stroke="#e06a6a" stroke-width="1" stroke-dasharray="2.4,1.5"/>
<line x1="627.8" y1="310" x2="634.2" y2="310" stroke="#5252d4" stroke-width="1" stroke-dasharray="2.4,1.5"/>
<line x1="627.8" y1="322" x2="634.2" y2="322" stroke="#a45ee0" stroke-width="1" stroke-dasharray="2.4,1.5"/>
<text x="637.6" y="301.7" font-size="8.7" font-family='"Liberation Sans", sans-serif' fill="#111">NEP<tspan font-size="5.6" dx="0.7" dy="3.4" font-style="italic">th</tspan></text>
<text x="637.6" y="313.6" font-size="8.7" font-family='"Liberation Sans", sans-serif' fill="#111">NEP<tspan font-size="5.6" dx="0.7" dy="3.4" font-style="italic">thm</tspan></text>
<text x="637.6" y="325.8" font-size="8.7" font-family='"Liberation Sans", sans-serif' fill="#111">NEP<tspan font-size="5.6" dx="0.7" dy="3.4" font-style="italic">pba</tspan></text>
<circle cx="631.1" cy="335.9" r="3.3" fill="none" stroke="#8b2323" stroke-width="1"/>
<text x="637.6" y="338.6" font-size="8.7" text-anchor="start" font-family='"Liberation Sans", sans-serif' fill="#111" >Data</text>
<text x="537.3" y="383.4" font-size="10.9" text-anchor="middle" font-family='"Liberation Sans", sans-serif' fill="#111"><tspan font-style="italic">L</tspan> (µm)</text>
<text transform="translate(361.2,314.7) rotate(-90)" font-size="10.8" font-family='"Liberation Sans", sans-serif' fill="#111">NEP (pWI<tspan dx="6.2" font-style="italic">Hz</tspan>)</text>
<polyline points="355.4,265.6 356.3,265.2 360.4,262.9 350.4,260.7 350.4,247.6" fill="none" stroke="#222" stroke-width="0.85" stroke-linejoin="miter"/>
</svg>
</body></html>
